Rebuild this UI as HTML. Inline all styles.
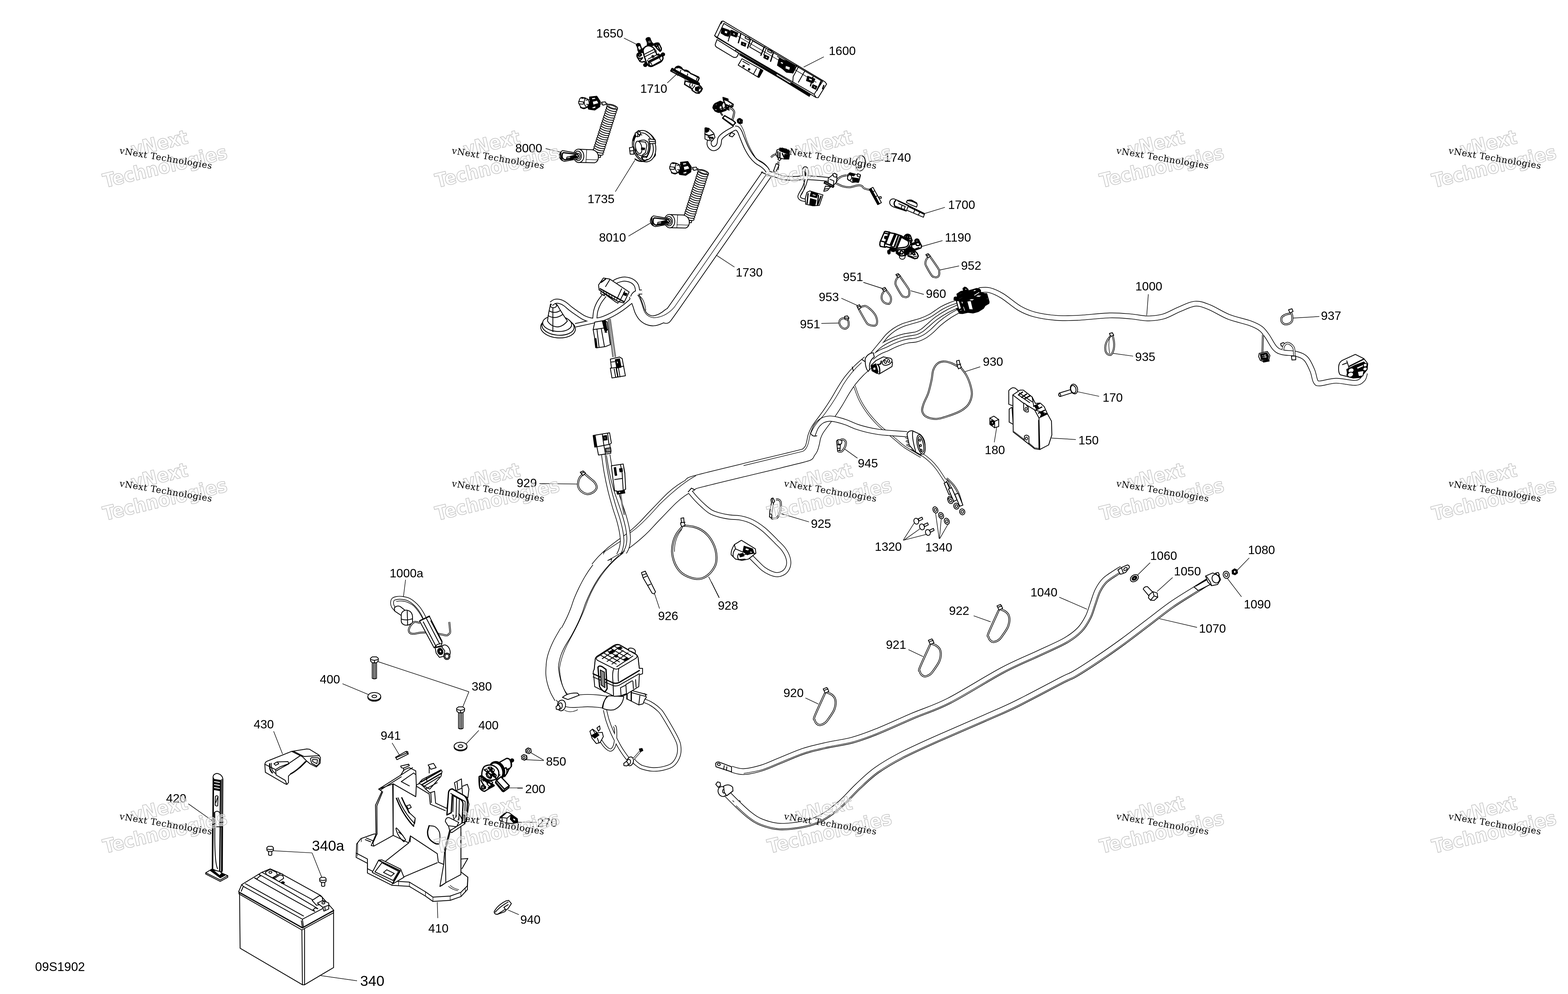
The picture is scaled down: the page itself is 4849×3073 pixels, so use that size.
<!DOCTYPE html>
<html lang="en">
<head>
<meta charset="utf-8">
<title>09S1902 - Electrical System</title>
<style>
html,body{margin:0;padding:0;background:#fff;}
body{width:4849px;height:3073px;overflow:hidden;}
svg{display:block;will-change:transform;}
.d *{vector-effect:non-scaling-stroke;}
.d{fill:none;stroke:#000;stroke-width:2.5;stroke-linejoin:round;stroke-linecap:round;}
.w{fill:#fff;}
.k{fill:#000;}
.g{fill:#888;}
.t{stroke-width:1.6;}
.h{stroke-width:3.8;}
.tb{stroke:#000;fill:none;stroke-linecap:butt;}
.tw{stroke:#fff;fill:none;stroke-linecap:butt;}
.ld{stroke-width:1.7;stroke-linecap:butt;}
.d text{font-family:"Liberation Sans",sans-serif;fill:#000;stroke:none;}
.wm1{font-family:"DejaVu Sans Condensed","DejaVu Sans",sans-serif;font-weight:bold;font-stretch:condensed;font-size:60px;fill:#fff;fill-opacity:.5;stroke:#c6c6c6;stroke-width:2;stroke-linejoin:round;text-anchor:middle;}
.wm2{font-family:"DejaVu Serif",serif;font-size:27.5px;letter-spacing:.95px;fill:#000;}
</style>
</head>
<body>
<svg width="4849" height="3073" viewBox="0 0 4849 3073">
<rect x="0" y="0" width="4849" height="3073" fill="#fff"/>
<g class="d" transform="translate(1800,40) scale(0.24917)" font-size="150.50">
<text x="176" y="305">1650</text>
<path class="ld" d="M520 312L682 392"/>
<text x="722" y="990">1710</text>
<path class="ld" d="M1058 868L1165 768"/>
</g>
<g class="d" transform="translate(1950,100) scale(0.12451)" font-size="301.18">
<path class="h w" d="M160 330 L195 440 Q235 455 275 420 L235 305 Z"/>
<ellipse class="k" cx="190" cy="308" rx="50" ry="34" transform="rotate(-15 190 308)"/>
<path class="k" d="M175 430 Q230 462 280 420 L335 380 L312 472 L232 502 L200 492 Z"/>
<path class="h w" d="M395 185 L432 292 L532 270 L482 160 Z"/>
<path d="M430 200 L462 285 M462 190 L495 278"/>
<ellipse class="k" cx="436" cy="168" rx="56" ry="40" transform="rotate(-15 436 168)"/>
<path class="k" d="M410 290 L540 260 L582 300 L560 332 L420 332 Z"/>
<path class="h w" d="M312 500 Q200 490 165 540 Q150 585 172 622 L232 722 Q290 752 340 722 L372 762 L420 700 L340 520 Z"/>
<ellipse class="k" cx="228" cy="562" rx="48" ry="36" transform="rotate(-20 228 562)"/>
<ellipse class="w" cx="228" cy="562" rx="26" ry="18" transform="rotate(-20 228 562)"/>
<path class="h" d="M180 630 Q240 660 300 630 M230 700 Q270 680 290 640"/>
<path class="h w" d="M580 290 Q640 250 702 270 L762 392 Q772 452 732 472 L660 402 Z"/>
<ellipse class="k" cx="646" cy="322" rx="50" ry="34" transform="rotate(-20 646 322)"/>
<ellipse class="w" cx="646" cy="322" rx="27" ry="16" transform="rotate(-20 646 322)"/>
<path class="h" d="M690 360 Q720 410 735 465"/>
<ellipse class="k" cx="805" cy="548" rx="42" ry="40"/>
<ellipse class="w" cx="800" cy="545" rx="14" ry="14"/>
<ellipse class="k" cx="365" cy="812" rx="42" ry="40"/>
<ellipse class="w" cx="362" cy="808" rx="14" ry="14"/>
<path class="h w" d="M310 452 Q330 352 430 332 Q520 330 580 400 L660 560 L750 560 Q812 600 802 660 Q782 722 722 752 L540 842 Q460 862 430 812 L390 742 L330 562 Z"/>
<path d="M330 552 L602 412 M362 602 L642 462 M440 662 L702 532 M602 412 L660 560 M420 690 L470 790 M700 540 L740 620"/>
<path class="k" d="M525 590 L560 572 L585 608 L550 628 Z"/>
<path class="w" d="M543 595 L558 588 L567 605 L552 612 Z"/>
<path class="h w" d="M450 772 Q440 722 480 702 L722 582 Q790 572 806 622 Q810 682 760 712 L540 832 Q470 852 450 772 Z"/>
<path class="h" d="M470 742 L742 604"/>
<path d="M482 772 Q478 742 505 730 L735 618 M510 760 L530 810 M720 640 L745 690"/>
<path class="h w" d="M1100 902 Q1130 842 1190 840 Q1272 860 1292 922 L1342 942 Q1402 932 1452 982 L1492 1022 L1562 1052 L1692 1112 L1702 1142 L1662 1232 L1110 940 Z"/>
<path class="k" d="M1130 870 Q1180 830 1250 870 L1290 915 L1250 900 Q1190 860 1150 890 Z"/>
<path class="k" d="M1330 945 Q1400 925 1460 985 L1430 990 Q1390 955 1345 965 Z"/>
<path d="M1250 940 L1235 985 M1420 1030 L1405 1075 M1560 1055 L1690 1130 M1655 1130 L1630 1200"/>
<path class="h w" d="M1000 955 L1030 897 L1700 1262 L1690 1302 L1650 1300 L1000 960 Z"/>
<path class="k" d="M1040 892 L1700 1255 L1715 1290 L1690 1305 L1030 935 Z"/>
<path class="w" d="M1010 945 L1030 910 L1050 922 L1032 958 Z"/>
<path d="M1150 1010 L1130 1055 M1190 1030 L1170 1075 M1370 1125 L1350 1170 M1480 1190 L1465 1230"/>
<path class="h w" d="M1355 1205 L1342 1290 L1520 1400 L1532 1442 L1622 1502 L1702 1512 L1782 1402 L1742 1342 L1700 1305 Z"/>
<path d="M1480 1270 L1465 1320 L1520 1400 M1540 1290 L1525 1340 M1600 1320 L1540 1395 L1532 1442"/>
<path class="k" d="M1610 1370 L1700 1340 L1720 1390 L1650 1460 L1610 1440 Z"/>
<ellipse class="w" cx="1720" cy="1430" rx="50" ry="68" transform="rotate(30 1720 1430)"/>
<ellipse cx="1720" cy="1430" rx="28" ry="44" transform="rotate(30 1720 1430)"/>
</g>
<g class="d" transform="translate(2180,40) scale(0.24917)" font-size="150.50">
<text x="1537" y="522">1600</text>
<path class="ld" d="M1475 545L1225 672"/>
<path class="w" d="M150 330 L128 390 Q125 410 145 425 L350 548 Q385 560 400 540 L420 500 Z"/>
<path class="w" d="M460 568 L413 648 L665 800 L718 712 Z"/>
<path d="M640 690 L605 755 M470 600 L550 645"/>
<ellipse class="k" cx="480" cy="660" rx="10" ry="10"/>
<ellipse class="k" cx="548" cy="700" rx="10" ry="10"/>
<path class="k" d="M690 700 L720 716 L672 800 L655 790 Z"/>
<path class="w" d="M385 455 L375 470 L1295 1035 L1310 1005 Z"/>
<path class="k" d="M430 520 L1290 1020 L1300 1005 L440 505 Z"/>
<path class="w" d="M890 750 L880 770 L1060 880 L1075 860 Z"/>
<path class="w" d="M205 105 L225 100 L1490 855 L1510 882 L1405 1052 L1380 1050 L120 282 Z"/>
<path d="M1380 1050 L1355 1010 L1460 850 M1355 1010 L150 310 L120 282 M150 310 L235 130"/>
<path d="M235 130 L1460 850"/>
<path class="t" d="M300 225 L1380 860 M285 350 L340 225"/>
<path class="h" d="M445 262 L415 370 M565 325 L530 435 M735 425 L695 525 M850 490 L815 600 M1140 650 L1090 745 M1340 795 L1310 905 M1440 850 L1390 960"/>
<path d="M320 215 L290 350 M595 345 L555 420 M760 440 L730 520 M900 540 L1000 600 M1160 670 L1095 790 L1090 860 M1240 720 L1160 860 M590 345 L740 430 L745 410 M560 425 L700 505"/>
<path class="k" d="M215 185 L300 215 L310 235 L290 290 L250 280 L200 250 Z"/>
<path class="w" d="M245 215 L285 228 L275 262 L240 250 Z"/>
<path class="k" d="M330 215 L410 250 L390 300 L320 275 Z"/>
<path class="w" d="M350 245 L380 258 L372 278 L342 265 Z"/>
<path class="k" d="M455 360 L510 380 L500 415 L450 395 Z"/>
<path class="w" d="M470 375 L495 384 L490 400 L466 392 Z"/>
<path d="M505 290 L555 312 L545 335 L498 312 Z"/>
<path class="k" d="M740 520 L795 545 L780 580 L730 555 Z"/>
<path class="w" d="M755 535 L780 546 L772 565 L748 555 Z"/>
<path d="M785 450 L835 475 L825 498 L778 475 Z"/>
<path class="k" d="M920 565 L1020 600 L1120 650 L1090 745 L1010 735 L960 690 L900 650 Z"/>
<path class="w" d="M1000 650 L1060 672 L1050 712 L995 692 Z"/>
<path class="w" d="M940 600 L975 615 L968 640 L935 625 Z"/>
<path class="k" d="M1275 785 L1365 820 L1340 870 L1260 840 Z"/>
<path class="w" d="M1292 805 L1335 822 L1326 845 L1284 828 Z"/>
<path class="k" d="M1340 890 L1390 912 L1375 948 L1328 925 Z"/>
<path class="w" d="M1352 905 L1376 916 L1368 934 L1345 924 Z"/>
<path class="h" d="M1475 900 L1460 940 M210 112 L200 128"/>
</g>
<g class="d" transform="translate(1640,260) scale(0.24917)" font-size="150.50">
<path class="tb" stroke-width="6" d="M868 240C873.5 239.63 890.3 237.46 901.01 237.77C911.73 238.08 922.46 239.48 932.29 241.85C942.12 244.22 955.38 250.31 960 252"/>
<path class="tw" stroke-width="2.4" d="M868 240C873.5 239.63 890.3 237.46 901.01 237.77C911.73 238.08 922.46 239.48 932.29 241.85C942.12 244.22 955.38 250.31 960 252"/>
<path class="w" d="M885 225 L930 220 L945 250 L900 262 Z"/>
<path class="t" d="M960 250 Q1000 245 1040 262"/>
<ellipse class="w" cx="838" cy="852" rx="68" ry="24" transform="rotate(17.5 838 852)"/>
<ellipse class="w" cx="847" cy="825" rx="68" ry="24" transform="rotate(17.5 847 825)"/>
<ellipse class="w" cx="855" cy="798" rx="68" ry="24" transform="rotate(17.5 855 798)"/>
<ellipse class="w" cx="864" cy="771" rx="68" ry="24" transform="rotate(17.5 864 771)"/>
<ellipse class="w" cx="872" cy="743" rx="68" ry="24" transform="rotate(17.5 872 743)"/>
<ellipse class="w" cx="881" cy="716" rx="68" ry="24" transform="rotate(17.5 881 716)"/>
<ellipse class="w" cx="889" cy="689" rx="68" ry="24" transform="rotate(17.5 889 689)"/>
<ellipse class="w" cx="898" cy="662" rx="68" ry="24" transform="rotate(17.5 898 662)"/>
<ellipse class="w" cx="907" cy="635" rx="68" ry="24" transform="rotate(17.5 907 635)"/>
<ellipse class="w" cx="915" cy="608" rx="68" ry="24" transform="rotate(17.5 915 608)"/>
<ellipse class="w" cx="924" cy="581" rx="68" ry="24" transform="rotate(17.5 924 581)"/>
<ellipse class="w" cx="932" cy="553" rx="68" ry="24" transform="rotate(17.5 932 553)"/>
<ellipse class="w" cx="941" cy="526" rx="68" ry="24" transform="rotate(17.5 941 526)"/>
<ellipse class="w" cx="949" cy="499" rx="68" ry="24" transform="rotate(17.5 949 499)"/>
<ellipse class="w" cx="958" cy="472" rx="68" ry="24" transform="rotate(17.5 958 472)"/>
<ellipse class="w" cx="967" cy="445" rx="68" ry="24" transform="rotate(17.5 967 445)"/>
<ellipse class="w" cx="975" cy="418" rx="68" ry="24" transform="rotate(17.5 975 418)"/>
<ellipse class="w" cx="984" cy="391" rx="68" ry="24" transform="rotate(17.5 984 391)"/>
<ellipse class="w" cx="992" cy="363" rx="68" ry="24" transform="rotate(17.5 992 363)"/>
<ellipse class="w" cx="1001" cy="336" rx="68" ry="24" transform="rotate(17.5 1001 336)"/>
<ellipse class="w" cx="1009" cy="309" rx="68" ry="24" transform="rotate(17.5 1009 309)"/>
<ellipse class="w" cx="1018" cy="282" rx="68" ry="24" transform="rotate(17.5 1018 282)"/>
<ellipse class="t" cx="1018" cy="282" rx="50" ry="14" transform="rotate(17.5 1018 282)"/>
<path d="M1082 300 L1075 325 M952 275 L945 300"/>
<path class="w" d="M600 808 L770 815 Q838 830 845 900 Q845 960 800 976 L600 972 Z"/>
<path class="t" d="M690 935 L835 940 M700 815 L690 972"/>
<ellipse class="w" cx="600" cy="890" rx="64" ry="83" transform="rotate(-5 600 890)"/>
<ellipse cx="592" cy="890" rx="42" ry="58" transform="rotate(-5 592 890)"/>
<path class="w" d="M845 880 L875 885 L870 910 L845 908 Z"/>
<path class="w" d="M400 825 L605 862 Q632 892 605 925 L425 958 Q368 945 360 892 Q365 840 400 825 Z"/>
<path class="h" d="M410 850 L585 872 Q610 895 585 912 L430 940 Q390 925 395 888 Q395 860 410 850 Z"/>
<path class="k" d="M500 895 L560 880 L580 900 L520 935 L440 935 Z"/>
<path class="w" d="M455 905 L505 900 L495 920 L450 925 Z"/>
<path class="h" d="M380 850 Q370 900 395 945"/>
<ellipse class="w" cx="655" cy="235" rx="48" ry="72" transform="rotate(-15 655 235)"/>
<path class="w" d="M600 215 L660 222 L658 250 L602 245 Z"/>
<path class="h" d="M640 175 Q690 160 705 200 M625 290 Q670 310 705 285"/>
<ellipse class="w" cx="700" cy="232" rx="30" ry="55" transform="rotate(-10 700 232)"/>
<path class="k" d="M735 160 L825 150 L868 215 L862 280 L800 322 L725 312 L708 280 L740 230 Z"/>
<path class="w" d="M770 215 L830 200 L850 240 L780 260 Z"/>
<path class="w" d="M765 285 L815 270 L810 300 L770 305 Z"/>
<path class="w" d="M760 170 L805 165 L815 185 L765 195 Z"/>
<path d="M700 250 L740 262 M690 200 L730 190"/>
<text x="-187" y="846">8000</text>
<path class="ld" d="M190 800L382 846"/>
</g>
<g class="d" transform="translate(1921.3,461.8) scale(0.24917)" font-size="150.50">
<path class="tb" stroke-width="6" d="M868 240C873.5 239.63 890.3 237.46 901.01 237.77C911.73 238.08 922.46 239.48 932.29 241.85C942.12 244.22 955.38 250.31 960 252"/>
<path class="tw" stroke-width="2.4" d="M868 240C873.5 239.63 890.3 237.46 901.01 237.77C911.73 238.08 922.46 239.48 932.29 241.85C942.12 244.22 955.38 250.31 960 252"/>
<path class="w" d="M885 225 L930 220 L945 250 L900 262 Z"/>
<path class="t" d="M960 250 Q1000 245 1040 262"/>
<ellipse class="w" cx="838" cy="852" rx="68" ry="24" transform="rotate(17.5 838 852)"/>
<ellipse class="w" cx="847" cy="825" rx="68" ry="24" transform="rotate(17.5 847 825)"/>
<ellipse class="w" cx="855" cy="798" rx="68" ry="24" transform="rotate(17.5 855 798)"/>
<ellipse class="w" cx="864" cy="771" rx="68" ry="24" transform="rotate(17.5 864 771)"/>
<ellipse class="w" cx="872" cy="743" rx="68" ry="24" transform="rotate(17.5 872 743)"/>
<ellipse class="w" cx="881" cy="716" rx="68" ry="24" transform="rotate(17.5 881 716)"/>
<ellipse class="w" cx="889" cy="689" rx="68" ry="24" transform="rotate(17.5 889 689)"/>
<ellipse class="w" cx="898" cy="662" rx="68" ry="24" transform="rotate(17.5 898 662)"/>
<ellipse class="w" cx="907" cy="635" rx="68" ry="24" transform="rotate(17.5 907 635)"/>
<ellipse class="w" cx="915" cy="608" rx="68" ry="24" transform="rotate(17.5 915 608)"/>
<ellipse class="w" cx="924" cy="581" rx="68" ry="24" transform="rotate(17.5 924 581)"/>
<ellipse class="w" cx="932" cy="553" rx="68" ry="24" transform="rotate(17.5 932 553)"/>
<ellipse class="w" cx="941" cy="526" rx="68" ry="24" transform="rotate(17.5 941 526)"/>
<ellipse class="w" cx="949" cy="499" rx="68" ry="24" transform="rotate(17.5 949 499)"/>
<ellipse class="w" cx="958" cy="472" rx="68" ry="24" transform="rotate(17.5 958 472)"/>
<ellipse class="w" cx="967" cy="445" rx="68" ry="24" transform="rotate(17.5 967 445)"/>
<ellipse class="w" cx="975" cy="418" rx="68" ry="24" transform="rotate(17.5 975 418)"/>
<ellipse class="w" cx="984" cy="391" rx="68" ry="24" transform="rotate(17.5 984 391)"/>
<ellipse class="w" cx="992" cy="363" rx="68" ry="24" transform="rotate(17.5 992 363)"/>
<ellipse class="w" cx="1001" cy="336" rx="68" ry="24" transform="rotate(17.5 1001 336)"/>
<ellipse class="w" cx="1009" cy="309" rx="68" ry="24" transform="rotate(17.5 1009 309)"/>
<ellipse class="w" cx="1018" cy="282" rx="68" ry="24" transform="rotate(17.5 1018 282)"/>
<ellipse class="t" cx="1018" cy="282" rx="50" ry="14" transform="rotate(17.5 1018 282)"/>
<path d="M1082 300 L1075 325 M952 275 L945 300"/>
<path class="w" d="M600 808 L770 815 Q838 830 845 900 Q845 960 800 976 L600 972 Z"/>
<path class="t" d="M690 935 L835 940 M700 815 L690 972"/>
<ellipse class="w" cx="600" cy="890" rx="64" ry="83" transform="rotate(-5 600 890)"/>
<ellipse cx="592" cy="890" rx="42" ry="58" transform="rotate(-5 592 890)"/>
<path class="w" d="M845 880 L875 885 L870 910 L845 908 Z"/>
<path class="w" d="M400 825 L605 862 Q632 892 605 925 L425 958 Q368 945 360 892 Q365 840 400 825 Z"/>
<path class="h" d="M410 850 L585 872 Q610 895 585 912 L430 940 Q390 925 395 888 Q395 860 410 850 Z"/>
<path class="k" d="M500 895 L560 880 L580 900 L520 935 L440 935 Z"/>
<path class="w" d="M455 905 L505 900 L495 920 L450 925 Z"/>
<path class="h" d="M380 850 Q370 900 395 945"/>
<ellipse class="w" cx="655" cy="235" rx="48" ry="72" transform="rotate(-15 655 235)"/>
<path class="w" d="M600 215 L660 222 L658 250 L602 245 Z"/>
<path class="h" d="M640 175 Q690 160 705 200 M625 290 Q670 310 705 285"/>
<ellipse class="w" cx="700" cy="232" rx="30" ry="55" transform="rotate(-10 700 232)"/>
<path class="k" d="M735 160 L825 150 L868 215 L862 280 L800 322 L725 312 L708 280 L740 230 Z"/>
<path class="w" d="M770 215 L830 200 L850 240 L780 260 Z"/>
<path class="w" d="M765 285 L815 270 L810 300 L770 305 Z"/>
<path class="w" d="M760 170 L805 165 L815 185 L765 195 Z"/>
<path d="M700 250 L740 262 M690 200 L730 190"/>
<text x="-276" y="1143">8010</text>
<path class="ld" d="M90 1076L360 916"/>
</g>
<g class="d" transform="translate(1640,260) scale(0.24917)" font-size="150.50">
<text x="710" y="1478">1735</text>
<path class="ld" d="M1055 1335L1297 945"/>
<ellipse class="w" cx="1500" cy="880" rx="55" ry="40" transform="rotate(-20 1500 880)"/>
<ellipse class="w" cx="1412" cy="770" rx="142" ry="198" transform="rotate(-14 1412 770)"/>
<ellipse cx="1405" cy="775" rx="118" ry="172" transform="rotate(-14 1405 775)"/>
<path class="h" d="M1300 930 Q1380 985 1450 935 M1280 700 Q1300 620 1360 585"/>
<path class="w" d="M1300 610 L1345 575 L1370 610 L1350 650 L1310 650 Z"/>
<path d="M1320 600 L1360 640 M1340 585 L1330 655 M1355 625 L1385 630"/>
<path class="w" d="M1230 790 L1280 780 L1285 870 L1240 870 Z"/>
<path d="M1235 830 L1285 825"/>
<path class="w" d="M1470 680 L1550 690 L1555 735 L1480 740 Z"/>
<path d="M1475 710 L1555 715 M1440 590 Q1520 630 1550 700"/>
<path class="w" d="M1330 720 Q1360 690 1420 695 L1460 720 Q1480 790 1450 860 L1400 890 Q1340 890 1310 850 Q1295 780 1330 720 Z"/>
<ellipse class="w" cx="1345" cy="785" rx="38" ry="78" transform="rotate(-12 1345 785)"/>
<path d="M1350 710 L1430 720 L1445 760 M1390 880 L1430 850 L1445 760"/>
<path class="k" d="M1380 790 L1420 795 L1415 815 L1378 810 Z"/>
<path class="h" d="M1480 730 Q1500 820 1440 910 M1450 900 L1380 905 L1400 940"/>
</g>
<g class="d" transform="translate(1640,700) scale(0.33224)" font-size="112.87">
<text x="1912" y="468">1730</text>
<path class="ld" d="M1900 378L1735 270"/>
<ellipse class="w" cx="258" cy="945" rx="162" ry="92" transform="rotate(5 258 945)"/>
<ellipse cx="258" cy="930" rx="150" ry="82" transform="rotate(5 258 930)"/>
<ellipse class="w" cx="250" cy="905" rx="135" ry="72" transform="rotate(5 250 905)"/>
<path class="w" d="M160 880 Q170 800 185 740 Q215 700 250 730 Q290 800 345 880 Q300 935 250 935 Q190 930 160 880 Z"/>
<path d="M165 830 Q230 870 300 820 M175 785 Q225 815 275 785 M210 760 L210 980"/>
<ellipse cx="215" cy="735" rx="30" ry="22"/>
<path class="tb" stroke-width="15" d="M1000 610C997.82 599.72 995.91 565.38 986.93 548.29C977.95 531.2 963.95 517.21 946.13 507.49C928.31 497.78 899.1 491.64 880 490C860.9 488.36 846.43 493.55 831.56 497.66C816.68 501.77 802.68 507.6 790.76 514.66C778.83 521.71 765.13 535.78 760 540"/>
<path class="tb" stroke-width="15" d="M690 640C681.73 651.36 653.77 684.35 640.4 708.18C627.03 732.01 616.53 757.67 609.8 782.98C603.07 808.28 601.63 847.16 600 860"/>
<path class="tb" stroke-width="33" d="M2200 -484C2057.5 -279.17 1497.3 529.28 1345 745C1192.7 960.72 1307.03 791.91 1286.18 810.34C1265.32 828.76 1242.57 844.28 1219.88 855.56C1197.18 866.83 1170.64 875.71 1150 878C1129.36 880.29 1112.4 875.74 1096.04 869.3C1079.69 862.86 1064.52 852.6 1051.85 839.38C1039.17 826.16 1028.52 807.59 1020 790C1011.48 772.41 1007.07 751.72 1000.74 733.87C994.42 716.01 988 698.51 982.04 682.87C976.09 667.22 967.84 647.14 965 640"/>
<path class="tb" stroke-width="15" d="M1040 610C1032.29 610.71 1007.11 609.04 993.73 614.29C980.36 619.54 968.69 628.87 959.73 641.49C950.78 654.11 953.92 672.56 940 690C926.08 707.44 899.34 728.28 876.24 746.13C853.15 763.99 827.48 781.49 801.44 797.13C775.4 812.78 746.41 828.25 720 840C693.59 851.75 668.28 862.45 642.98 867.62C617.67 872.79 592.01 873.96 568.18 871.02C544.35 868.08 522 860.28 500 850C478 839.72 457.01 823.46 436.18 809.31C415.34 795.16 394.34 780 374.98 765.11C355.62 750.23 337.33 731.2 320 720C302.67 708.8 286.26 701.57 271.01 697.89C255.76 694.21 241.18 694.21 228.51 697.89C215.84 701.58 200.59 716.32 195 720"/>
<path class="tb" stroke-width="13" d="M940 700C924.24 711.93 878.18 750.01 845.42 771.58C812.66 793.14 777.66 812.97 743.42 829.38C709.19 845.78 693.9 854.9 640 870C586.1 885.1 456.67 911.67 420 920"/>
<path class="tw" stroke-width="10.6" d="M1000 610C997.82 599.72 995.91 565.38 986.93 548.29C977.95 531.2 963.95 517.21 946.13 507.49C928.31 497.78 899.1 491.64 880 490C860.9 488.36 846.43 493.55 831.56 497.66C816.68 501.77 802.68 507.6 790.76 514.66C778.83 521.71 765.13 535.78 760 540"/>
<path class="tw" stroke-width="10.6" d="M690 640C681.73 651.36 653.77 684.35 640.4 708.18C627.03 732.01 616.53 757.67 609.8 782.98C603.07 808.28 601.63 847.16 600 860"/>
<path class="tw" stroke-width="28.6" d="M2200 -484C2057.5 -279.17 1497.3 529.28 1345 745C1192.7 960.72 1307.03 791.91 1286.18 810.34C1265.32 828.76 1242.57 844.28 1219.88 855.56C1197.18 866.83 1170.64 875.71 1150 878C1129.36 880.29 1112.4 875.74 1096.04 869.3C1079.69 862.86 1064.52 852.6 1051.85 839.38C1039.17 826.16 1028.52 807.59 1020 790C1011.48 772.41 1007.07 751.72 1000.74 733.87C994.42 716.01 988 698.51 982.04 682.87C976.09 667.22 967.84 647.14 965 640"/>
<path class="tw" stroke-width="10.6" d="M1040 610C1032.29 610.71 1007.11 609.04 993.73 614.29C980.36 619.54 968.69 628.87 959.73 641.49C950.78 654.11 953.92 672.56 940 690C926.08 707.44 899.34 728.28 876.24 746.13C853.15 763.99 827.48 781.49 801.44 797.13C775.4 812.78 746.41 828.25 720 840C693.59 851.75 668.28 862.45 642.98 867.62C617.67 872.79 592.01 873.96 568.18 871.02C544.35 868.08 522 860.28 500 850C478 839.72 457.01 823.46 436.18 809.31C415.34 795.16 394.34 780 374.98 765.11C355.62 750.23 337.33 731.2 320 720C302.67 708.8 286.26 701.57 271.01 697.89C255.76 694.21 241.18 694.21 228.51 697.89C215.84 701.58 200.59 716.32 195 720"/>
<path class="tw" stroke-width="8.6" d="M940 700C924.24 711.93 878.18 750.01 845.42 771.58C812.66 793.14 777.66 812.97 743.42 829.38C709.19 845.78 693.9 854.9 640 870C586.1 885.1 456.67 911.67 420 920"/>
<path class="t" d="M2197 -484 L1340 752 Q1260 845 1150 850 Q1070 840 1050 760 Q1020 660 1000 640"/>
<path class="t" d="M1000 640 Q1060 660 1075 780"/>
<path class="tb" stroke-width="4" d="M725 860 L770 1215"/>
<path class="tb" stroke-width="4" d="M742 860 L792 1215"/>
<path class="tw" stroke-width="1.4" d="M725 860 L770 1215"/>
<path class="tw" stroke-width="1.4" d="M742 860 L792 1215"/>
<path class="w" d="M635 545 L680 480 L740 490 L920 610 L870 712 L820 700 L640 590 Z"/>
<path class="h" d="M650 580 L870 700 M660 520 L700 490"/>
<path d="M850 580 L800 690 M880 600 L830 700 M740 495 L700 560"/>
<path class="k" d="M870 615 L900 625 L892 645 L865 635 Z"/>
<path class="t" d="M680 600 L688 625 M705 612 L713 637 M730 625 L738 650 M755 640 L763 665 M780 655 L788 680"/>
<path class="w" d="M640 590 L660 600 L655 625 L690 645 L685 625 L820 700 L815 715 L790 700 Z"/>
<path class="w" d="M585 960 L600 890 L690 875 L715 890 L745 1100 L700 1118 L615 1130 Z"/>
<path class="k" d="M670 880 L700 878 L715 965 L700 985 L690 960 Z"/>
<path class="k" d="M598 1045 L612 1043 L622 1125 L608 1128 Z"/>
<path d="M585 960 L690 945 L720 960 M620 955 L640 1125 M660 950 L690 1118 M695 985 L712 985"/>
<path class="w" d="M745 1235 L830 1215 L855 1230 L885 1390 L760 1410 L745 1320 L755 1315 Z"/>
<path class="k" d="M790 1240 L830 1232 L845 1310 L805 1318 Z"/>
<path class="w" d="M800 1255 L815 1252 L820 1275 L806 1278 Z"/>
<path d="M745 1320 L870 1300 M780 1325 L795 1405 M820 1315 L835 1400 M755 1262 L785 1258"/>
<path class="h" d="M800 1320 L815 1400"/>
</g>
<g class="d" transform="translate(2180,280) scale(0.24917)" font-size="150.50">
<ellipse class="w" cx="1932" cy="902" rx="58" ry="95" transform="rotate(8 1932 902)"/>
<ellipse cx="1925" cy="945" rx="22" ry="14" transform="rotate(10 1925 945)"/>
<path class="t" d="M1905 835 L1925 825 L1920 850"/>
<path class="ld" d="M2045 880L2210 862"/>
<text x="2222" y="885">1740</text>
<path class="tb" stroke-width="5.5" d="M1625 1135C1630.03 1127.93 1642.5 1104.47 1655.18 1092.58C1667.86 1080.69 1683.61 1070.77 1701.08 1063.68C1718.55 1056.58 1750.18 1052.28 1760 1050"/>
<path class="tb" stroke-width="5.5" d="M1625 1150C1639.58 1156.44 1683.44 1180.5 1712.47 1188.64C1741.49 1196.78 1771.24 1200.28 1799.17 1198.84C1827.09 1197.4 1860.29 1183.98 1880 1180C1899.71 1176.02 1905.52 1173.82 1917.42 1174.97C1929.33 1176.11 1940.99 1180.2 1951.42 1186.87C1961.85 1193.54 1961.9 1206.98 1980 1215C1998.1 1223.02 2046.67 1231.67 2060 1235"/>
<path class="tb" stroke-width="5.5" d="M905 985 L912 880"/>
<path class="tb" stroke-width="5.5" d="M820 830C823.66 826.33 833.78 813.9 841.98 807.96C850.17 802.02 859.51 797.35 869.18 794.36C878.85 791.36 894.86 790.73 900 790"/>
<path class="tb" stroke-width="15" d="M60 610C58.52 617.89 50.31 643.23 51.09 657.35C51.87 671.48 56.54 684.31 64.69 694.76C72.84 705.2 86.68 717.97 100 720C113.32 722.03 132.38 715.91 144.63 706.93C156.89 697.95 166.8 683.95 173.53 666.13C180.26 648.31 178.63 616.79 185 600C191.37 583.21 196.83 578.82 211.78 565.4C226.73 551.98 248.31 536.23 274.68 519.5C301.05 502.77 354.11 474.08 370 465"/>
<path class="tb" stroke-width="15" d="M370 465C375.32 465.98 391.49 463.39 401.91 470.89C412.33 478.39 422.83 491.81 432.51 509.99C442.19 528.18 446.26 546.67 460 580C473.74 613.33 495.61 671.29 514.98 709.95C534.34 748.61 555.34 783.61 576.18 811.95C597.01 840.29 617.98 861.32 640 880C662.02 898.68 688.99 909.88 708.31 924.02C727.63 938.16 743.96 952.16 755.91 964.82C767.86 977.49 775.99 994.14 780 1000"/>
<path class="tb" stroke-width="14" d="M790 1020C801.19 1024.04 836.33 1036.78 857.15 1044.22C877.98 1051.66 897.81 1058.66 914.96 1064.62C932.1 1070.59 937.46 1075.96 960 1080C982.54 1084.04 1020.45 1087.37 1050.22 1088.84C1079.99 1090.32 1110.33 1090.32 1138.62 1088.84C1166.92 1087.37 1187 1080.65 1220 1080C1253 1079.35 1297.92 1082.69 1336.62 1084.93C1375.33 1087.17 1414.99 1090.09 1452.22 1093.43C1489.45 1096.78 1542.04 1103.07 1560 1105"/>
<path class="tb" stroke-width="10" d="M1230 1080C1229.17 1068.98 1224.98 1031.69 1225 1013.87C1225.02 996.05 1226.77 982.05 1230.1 973.07C1233.43 964.09 1239.94 960.36 1245 960C1250.06 959.64 1256.74 963.41 1260.44 970.89C1264.15 978.37 1266.48 990.04 1267.24 1004.89C1268 1019.74 1267.93 1038.07 1265 1060C1262.07 1081.93 1256.75 1111.55 1249.65 1136.48C1242.56 1161.41 1233.23 1186.49 1222.45 1209.58C1211.68 1232.66 1193.93 1256.94 1185 1275C1176.07 1293.06 1167.29 1305.7 1168.85 1317.97C1170.4 1330.23 1179.15 1340.73 1194.35 1348.57C1209.54 1356.41 1249.06 1362.26 1260 1365"/>
<path class="tw" stroke-width="1.9" d="M1625 1135C1630.03 1127.93 1642.5 1104.47 1655.18 1092.58C1667.86 1080.69 1683.61 1070.77 1701.08 1063.68C1718.55 1056.58 1750.18 1052.28 1760 1050"/>
<path class="tw" stroke-width="1.9" d="M1625 1150C1639.58 1156.44 1683.44 1180.5 1712.47 1188.64C1741.49 1196.78 1771.24 1200.28 1799.17 1198.84C1827.09 1197.4 1860.29 1183.98 1880 1180C1899.71 1176.02 1905.52 1173.82 1917.42 1174.97C1929.33 1176.11 1940.99 1180.2 1951.42 1186.87C1961.85 1193.54 1961.9 1206.98 1980 1215C1998.1 1223.02 2046.67 1231.67 2060 1235"/>
<path class="tw" stroke-width="1.9" d="M905 985 L912 880"/>
<path class="tw" stroke-width="1.9" d="M820 830C823.66 826.33 833.78 813.9 841.98 807.96C850.17 802.02 859.51 797.35 869.18 794.36C878.85 791.36 894.86 790.73 900 790"/>
<path class="tw" stroke-width="10.4" d="M60 610C58.52 617.89 50.31 643.23 51.09 657.35C51.87 671.48 56.54 684.31 64.69 694.76C72.84 705.2 86.68 717.97 100 720C113.32 722.03 132.38 715.91 144.63 706.93C156.89 697.95 166.8 683.95 173.53 666.13C180.26 648.31 178.63 616.79 185 600C191.37 583.21 196.83 578.82 211.78 565.4C226.73 551.98 248.31 536.23 274.68 519.5C301.05 502.77 354.11 474.08 370 465"/>
<path class="tw" stroke-width="10.4" d="M370 465C375.32 465.98 391.49 463.39 401.91 470.89C412.33 478.39 422.83 491.81 432.51 509.99C442.19 528.18 446.26 546.67 460 580C473.74 613.33 495.61 671.29 514.98 709.95C534.34 748.61 555.34 783.61 576.18 811.95C597.01 840.29 617.98 861.32 640 880C662.02 898.68 688.99 909.88 708.31 924.02C727.63 938.16 743.96 952.16 755.91 964.82C767.86 977.49 775.99 994.14 780 1000"/>
<path class="tw" stroke-width="9.4" d="M790 1020C801.19 1024.04 836.33 1036.78 857.15 1044.22C877.98 1051.66 897.81 1058.66 914.96 1064.62C932.1 1070.59 937.46 1075.96 960 1080C982.54 1084.04 1020.45 1087.37 1050.22 1088.84C1079.99 1090.32 1110.33 1090.32 1138.62 1088.84C1166.92 1087.37 1187 1080.65 1220 1080C1253 1079.35 1297.92 1082.69 1336.62 1084.93C1375.33 1087.17 1414.99 1090.09 1452.22 1093.43C1489.45 1096.78 1542.04 1103.07 1560 1105"/>
<path class="tw" stroke-width="5.4" d="M1230 1080C1229.17 1068.98 1224.98 1031.69 1225 1013.87C1225.02 996.05 1226.77 982.05 1230.1 973.07C1233.43 964.09 1239.94 960.36 1245 960C1250.06 959.64 1256.74 963.41 1260.44 970.89C1264.15 978.37 1266.48 990.04 1267.24 1004.89C1268 1019.74 1267.93 1038.07 1265 1060C1262.07 1081.93 1256.75 1111.55 1249.65 1136.48C1242.56 1161.41 1233.23 1186.49 1222.45 1209.58C1211.68 1232.66 1193.93 1256.94 1185 1275C1176.07 1293.06 1167.29 1305.7 1168.85 1317.97C1170.4 1330.23 1179.15 1340.73 1194.35 1348.57C1209.54 1356.41 1249.06 1362.26 1260 1365"/>
<path class="t" d="M1215 1085 Q1260 1190 1200 1290"/>
<path d="M700 1012 L835 1072"/>
<path class="w" d="M850 1000 L885 905 L920 925 L880 1010 Z"/>
<path d="M300 560 L330 520 L370 540 L340 575 Z"/>
<path class="t" d="M440 420 Q480 480 500 560 Q540 700 640 850 Q760 900 800 985"/>
</g>
<g class="d" transform="translate(2180,300) scale(0.12458)" font-size="301.00">
<path class="tb" stroke-width="6" d="M610 265C618.72 268.75 647.08 277.79 662.32 287.49C677.56 297.19 690.98 309.44 701.42 323.19C711.87 336.94 722.44 350.84 725 370C727.56 389.16 721.28 414.35 716.8 438.18C712.32 462.01 705.9 487.67 698.1 512.98C690.3 538.28 674.68 577.16 670 590"/>
<path class="tb" stroke-width="5" d="M345 230C346.36 242.28 346.4 278.37 353.13 303.69C359.87 329 370.96 355.84 385.43 381.89C399.91 407.94 430.91 446.98 440 460"/>
<path class="tw" stroke-width="2" d="M610 265C618.72 268.75 647.08 277.79 662.32 287.49C677.56 297.19 690.98 309.44 701.42 323.19C711.87 336.94 722.44 350.84 725 370C727.56 389.16 721.28 414.35 716.8 438.18C712.32 462.01 705.9 487.67 698.1 512.98C690.3 538.28 674.68 577.16 670 590"/>
<path class="tw" stroke-width="1" d="M345 230C346.36 242.28 346.4 278.37 353.13 303.69C359.87 329 370.96 355.84 385.43 381.89C399.91 407.94 430.91 446.98 440 460"/>
<path class="h w" d="M440 520 L490 462 L700 585 L760 640 L700 705 Z"/>
<path class="h" d="M440 525 L690 710"/>
<path class="k" d="M195 270 Q200 200 250 160 L380 100 L450 130 L420 200 L350 240 L360 340 L400 370 L330 385 L250 350 Z"/>
<path class="w" d="M255 190 L300 170 L310 195 L265 215 Z"/>
<path class="w" d="M240 300 L290 290 L300 330 L260 335 Z"/>
<path class="w" d="M370 300 L420 280 L440 310 L390 330 Z"/>
<path class="k" d="M380 330 L520 290 L530 330 L400 375 Z"/>
<ellipse class="w" cx="470" cy="200" rx="45" ry="85" transform="rotate(20 470 200)"/>
<path class="h" d="M430 130 Q400 200 440 280"/>
<path class="h w" d="M450 12 L570 50 L572 100 L700 180 L690 240 L640 250 L590 225 L575 300 L520 280 L500 170 L462 82 Z"/>
<path class="k" d="M470 30 L560 62 L560 95 L478 70 Z"/>
<path class="k" d="M520 180 L600 215 L585 290 L520 270 Z"/>
<path class="w" d="M540 205 L575 220 L568 255 L535 245 Z"/>
<path d="M610 190 L600 235 M640 205 L632 248 M665 195 L660 240"/>
<path class="h" d="M505 250 Q540 310 600 320"/>
<path class="k" d="M800 575 Q820 530 870 530 L930 570 L925 650 L860 665 L810 630 Z"/>
<path class="w" d="M835 580 L870 565 L880 610 L845 625 Z"/>
<path class="w" d="M890 590 L915 585 L915 635 L893 640 Z"/>
</g>
<g class="d" transform="translate(2180,280) scale(0.24917)" font-size="150.50">
<path class="w" d="M0 465 L50 470 L110 530 L125 580 L90 625 L30 615 L0 600 Z"/>
<path class="k" d="M10 460 L45 468 L50 500 L20 520 L0 510 Z"/>
<path class="h" d="M0 540 L50 560 L100 545 M40 575 L100 585"/>
<path d="M55 590 L95 578 L100 595 L60 605 Z"/>
<path class="w" d="M895 735 L960 712 L1050 750 L1040 850 L985 850 L900 830 L880 790 Z"/>
<path class="k" d="M930 712 L1010 725 L1050 760 L1040 790 L960 760 L925 745 Z"/>
<path class="k" d="M990 790 L1050 800 L1040 850 L985 845 Z"/>
<path class="h" d="M905 760 L905 830 M930 770 L930 835 M960 780 L990 845"/>
<path class="w" d="M905 850 L925 830 L945 850 L925 870 Z"/>
<path class="w" d="M1265 1265 L1300 1245 L1465 1295 L1420 1425 L1340 1430 L1250 1410 L1245 1340 Z"/>
<path class="k" d="M1320 1260 L1400 1285 L1385 1330 L1305 1310 Z"/>
<path class="k" d="M1310 1340 L1380 1360 L1365 1430 L1300 1410 Z"/>
<path class="w" d="M1335 1280 L1380 1293 L1375 1312 L1330 1300 Z"/>
<path class="h" d="M1280 1280 L1268 1400 M1410 1300 L1395 1420 M1440 1310 L1400 1420"/>
<path class="w" d="M1530 1090 L1580 1050 L1640 1070 L1630 1140 L1590 1180 L1530 1150 Z"/>
<path class="w" d="M1585 1035 L1610 1025 L1640 1045 L1630 1075 L1600 1070 Z"/>
<path class="h" d="M1490 1130 L1600 1185 L1590 1200 L1480 1148 Z"/>
<path class="w" d="M1495 1185 L1475 1250 L1520 1240 L1560 1195 Z"/>
<path d="M1480 1225 L1530 1215 M1550 1100 L1600 1120 L1595 1170"/>
<path class="w" d="M1770 1045 L1800 1020 L1930 1055 L1910 1130 L1830 1140 L1770 1100 Z"/>
<path class="k" d="M1800 1020 L1860 1035 L1850 1060 L1790 1045 Z"/>
<path class="k" d="M1830 1080 L1915 1095 L1905 1140 L1835 1130 Z"/>
<path class="w" d="M1895 1030 L1930 1045 L1920 1075 L1890 1062 Z"/>
<ellipse cx="1795" cy="1080" rx="25" ry="35" transform="rotate(10 1795 1080)"/>
<path class="w" d="M2040 1225 L2085 1200 L2190 1390 L2145 1415 Z"/>
<path class="k" d="M2040 1225 L2062 1212 L2165 1405 L2145 1415 Z"/>
<path class="w" d="M2160 1320 L2185 1315 L2190 1335 L2165 1342 Z"/>
<path d="M2075 1260 L2100 1248 M2110 1320 L2135 1308"/>
</g>
<g class="d" transform="translate(2660,560) scale(0.24917)" font-size="150.50">
<text x="1092" y="345">1700</text>
<path class="ld" d="M1052 325L800 402"/>
<path class="w" d="M545 300 L565 285 L800 402 L785 448 L540 345 Z"/>
<path class="h" d="M560 295 L795 410"/>
<path d="M680 350 L665 390 M740 380 L725 420"/>
<path class="w" d="M572 262 Q590 225 640 235 L700 268 Q715 290 700 322 L625 292 Z"/>
<path class="h" d="M585 240 Q640 240 700 275"/>
<path class="w" d="M368 252 Q380 215 420 220 L470 240 L600 300 L572 372 L420 322 Q358 300 368 252 Z"/>
<path class="h" d="M440 240 Q410 270 430 310 L560 360 M470 245 L590 300"/>
<path d="M480 280 L560 315 L545 350 M520 300 L510 335"/>
<text x="1052" y="750">1190</text>
<path class="ld" d="M1022 738L760 812"/>
</g>
<g class="d" transform="translate(2700,700) scale(0.08322)" font-size="450.59">
<path class="h w" d="M1290 1010 L1400 930 L1560 920 L1640 1000 L1680 1100 L1640 1180 L1540 1200 L1300 1100 Z"/>
<path class="k" d="M1290 1010 L1400 930 L1440 1010 L1300 1030 Z"/>
<path class="h w" d="M1450 980 L1530 960 L1560 1050 L1500 1060 Z"/>
<path d="M1340 1080 L1500 1140 M1520 1130 L1620 1110"/>
<ellipse class="w" cx="1085" cy="1130" rx="105" ry="90"/>
<path class="h w" d="M980 1080 Q1080 1120 1190 1060 L1150 960 L1000 960 Z"/>
<path class="k" d="M850 990 L960 1080 L1000 1100 L1010 1000 L930 960 Z"/>
<path class="k" d="M540 900 L600 880 L640 930 L630 1010 L580 1030 L545 990 Z"/>
<path class="h w" d="M600 860 L640 870 L640 900 L610 905 Z"/>
<path class="h w" d="M1420 640 L1560 600 L1720 560 L1800 720 L1780 800 L1560 880 L1450 830 Z"/>
<ellipse class="k" cx="1630" cy="540" rx="85" ry="80"/>
<ellipse class="w" cx="1628" cy="545" rx="32" ry="30"/>
<path class="h w" d="M1590 620 Q1650 590 1720 610 L1735 690 Q1680 730 1610 700 Z"/>
<path class="k" d="M1420 640 L1570 600 L1580 660 L1440 690 Z"/>
<path class="h w" d="M1550 850 L1700 790 L1720 810 L1560 870 Z"/>
<path class="k" d="M1150 800 L1400 760 L1560 860 L1560 920 L1400 930 L1290 1010 L1200 1090 L1160 1000 Z"/>
<path class="w" d="M1290 1010 L1400 935 L1430 1040 Z"/>
<path class="h w" d="M1150 390 Q1200 290 1290 290 Q1380 300 1400 380 L1450 520 L1420 590 L1340 540 Z"/>
<ellipse class="k" cx="1280" cy="385" rx="72" ry="68"/>
<ellipse class="w" cx="1275" cy="390" rx="30" ry="28"/>
<path class="h" d="M1320 470 L1390 450 M1350 530 L1420 510"/>
<path class="h w" d="M630 840 Q900 880 1200 850 Q1350 770 1400 650 Q1390 560 1350 530 L1130 400 L1050 350 L880 810 Z"/>
<path class="h" d="M640 870 Q780 910 930 905 M1190 900 Q1340 850 1390 760"/>
<path class="h w" d="M1000 960 Q1010 900 1060 905 Q1120 920 1120 980 L1080 1030 L1030 1020 Z"/>
<path class="k" d="M690 900 L790 915 L785 940 L685 925 Z"/>
<path class="k" d="M850 925 L920 920 L925 950 L855 955 Z"/>
<path class="h w" d="M1050 400 L1300 540 Q1340 620 1300 700 Q1250 760 1180 775 L880 812 Z"/>
<path class="h w" d="M250 680 L260 580 L410 230 Q420 190 455 185 L620 215 L640 240 L820 270 L870 290 L1050 350 L880 810 L800 830 L620 790 L480 750 L450 775 L270 740 Z"/>
<path class="k" d="M590 225 L630 235 L470 655 L430 645 Z"/>
<path class="k" d="M800 268 L870 290 L690 715 L620 700 Z"/>
<path class="k" d="M430 370 L500 360 L510 400 L490 470 L430 450 L425 410 Z"/>
<path class="h" d="M300 545 L440 580 M460 640 L620 690 M420 250 L560 275 M440 580 L420 740"/>
<path d="M930 320 L780 745 M960 335 L810 755 M1010 360 L850 790 M660 740 L780 760 M640 775 L820 810"/>
<path class="k" d="M620 770 L800 800 L810 830 L630 800 Z"/>
</g>
<g class="d" transform="translate(2660,560) scale(0.24917)" font-size="150.50">
<text x="1252" y="1098">952</text>
<path class="ld" d="M1228 1052L985 1103"/>
<path class="tb" stroke-width="5.5" d="M838 948C834.47 953.68 821.47 970.64 816.81 982.1C812.14 993.57 809.81 1005.47 810.01 1016.78C810.21 1028.1 805 1024.46 818 1050C831 1075.54 871.38 1146.83 888 1170C904.62 1193.17 908.11 1185.15 917.71 1188.99C927.31 1192.84 936.88 1194.24 945.59 1193.07C954.31 1191.91 964.09 1187.96 970 1182C975.91 1176.04 979.21 1166.9 981.05 1157.29C982.9 1147.67 982.9 1136.35 981.06 1124.31C979.21 1112.26 989.34 1117.05 970 1085C950.66 1052.95 882.5 957.5 865 932"/>
<path class="tw" stroke-width="1.9" d="M838 948C834.47 953.68 821.47 970.64 816.81 982.1C812.14 993.57 809.81 1005.47 810.01 1016.78C810.21 1028.1 805 1024.46 818 1050C831 1075.54 871.38 1146.83 888 1170C904.62 1193.17 908.11 1185.15 917.71 1188.99C927.31 1192.84 936.88 1194.24 945.59 1193.07C954.31 1191.91 964.09 1187.96 970 1182C975.91 1176.04 979.21 1166.9 981.05 1157.29C982.9 1147.67 982.9 1136.35 981.06 1124.31C979.21 1112.26 989.34 1117.05 970 1085C950.66 1052.95 882.5 957.5 865 932"/>
<path class="w" d="M815 912 L845 900 L872 930 L842 950 Z"/>
<path d="M828 925 L858 915"/>
<text x="816" y="1450">960</text>
<path class="ld" d="M790 1405L628 1360"/>
<path class="tb" stroke-width="5.5" d="M466 1195C462.47 1200.68 449.47 1217.64 444.81 1229.1C440.14 1240.57 437.81 1252.47 438.01 1263.78C438.21 1275.1 433 1271.46 446 1297C459 1322.54 499.38 1393.83 516 1417C532.62 1440.17 536.11 1432.15 545.71 1435.99C555.31 1439.84 564.88 1441.24 573.59 1440.07C582.31 1438.91 592.09 1434.96 598 1429C603.91 1423.04 607.21 1413.9 609.05 1404.29C610.9 1394.67 610.9 1383.35 609.06 1371.31C607.21 1359.26 617.34 1364.05 598 1332C578.66 1299.95 510.5 1204.5 493 1179"/>
<path class="tw" stroke-width="1.9" d="M466 1195C462.47 1200.68 449.47 1217.64 444.81 1229.1C440.14 1240.57 437.81 1252.47 438.01 1263.78C438.21 1275.1 433 1271.46 446 1297C459 1322.54 499.38 1393.83 516 1417C532.62 1440.17 536.11 1432.15 545.71 1435.99C555.31 1439.84 564.88 1441.24 573.59 1440.07C582.31 1438.91 592.09 1434.96 598 1429C603.91 1423.04 607.21 1413.9 609.05 1404.29C610.9 1394.67 610.9 1383.35 609.06 1371.31C607.21 1359.26 617.34 1364.05 598 1332C578.66 1299.95 510.5 1204.5 493 1179"/>
<path class="w" d="M443 1159 L473 1147 L500 1177 L470 1197 Z"/>
<path d="M456 1172 L486 1162"/>
<path class="ld" d="M40 1255L275 1332"/>
<path class="tb" stroke-width="5.5" d="M292 1372C288.87 1377.32 277.62 1393.03 273.24 1403.9C268.87 1414.77 266.3 1426.2 265.76 1437.22C265.22 1448.23 265.41 1459.21 270 1470C274.59 1480.79 284.19 1493.81 293.28 1501.98C302.38 1510.14 313.11 1515.97 324.56 1518.98C336.02 1521.98 352.78 1524.59 362 1520C371.22 1515.41 376.34 1501.85 379.89 1491.42C383.44 1480.99 384.61 1469.33 383.29 1457.42C381.98 1445.52 382.22 1437.57 372 1420C361.78 1402.43 330.33 1363.33 322 1352"/>
<path class="tw" stroke-width="1.9" d="M292 1372C288.87 1377.32 277.62 1393.03 273.24 1403.9C268.87 1414.77 266.3 1426.2 265.76 1437.22C265.22 1448.23 265.41 1459.21 270 1470C274.59 1480.79 284.19 1493.81 293.28 1501.98C302.38 1510.14 313.11 1515.97 324.56 1518.98C336.02 1521.98 352.78 1524.59 362 1520C371.22 1515.41 376.34 1501.85 379.89 1491.42C383.44 1480.99 384.61 1469.33 383.29 1457.42C381.98 1445.52 382.22 1437.57 372 1420C361.78 1402.43 330.33 1363.33 322 1352"/>
<path class="w" d="M272 1335 L308 1318 L330 1352 L296 1370 Z"/>
<path d="M285 1348 L318 1335"/>
</g>
<g class="d" transform="translate(2420,800) scale(0.24917)" font-size="150.50">
<text x="749" y="275">951</text>
<path class="ld" d="M1003 293L1240 368"/>
<text x="449" y="527">953</text>
<path class="ld" d="M730 490L935 582"/>
<text x="216" y="862">951</text>
<path class="ld" d="M482 802L700 797"/>
<path class="tb" stroke-width="5.5" d="M948 628C963.67 655.33 1019.92 759.85 1042 792C1064.08 824.15 1067.39 814.4 1080.5 820.91C1093.6 827.43 1107.37 830.93 1120.62 831.11C1133.87 831.3 1151.22 828.83 1160 822C1168.78 815.17 1171.52 802.36 1173.28 790.14C1175.04 777.92 1174.11 763.69 1170.56 748.66C1167.01 733.64 1161.1 716.06 1152 700C1142.9 683.94 1128.75 666.67 1115.94 652.32C1103.13 637.97 1089.13 624.78 1075.14 613.9C1061.15 603.01 1043.41 591.27 1032 587C1020.59 582.73 1014.87 586.94 1006.69 588.29C998.5 589.64 990.34 591.98 982.89 595.09C975.44 598.21 965.48 605.02 962 607"/>
<path class="tw" stroke-width="1.9" d="M948 628C963.67 655.33 1019.92 759.85 1042 792C1064.08 824.15 1067.39 814.4 1080.5 820.91C1093.6 827.43 1107.37 830.93 1120.62 831.11C1133.87 831.3 1151.22 828.83 1160 822C1168.78 815.17 1171.52 802.36 1173.28 790.14C1175.04 777.92 1174.11 763.69 1170.56 748.66C1167.01 733.64 1161.1 716.06 1152 700C1142.9 683.94 1128.75 666.67 1115.94 652.32C1103.13 637.97 1089.13 624.78 1075.14 613.9C1061.15 603.01 1043.41 591.27 1032 587C1020.59 582.73 1014.87 586.94 1006.69 588.29C998.5 589.64 990.34 591.98 982.89 595.09C975.44 598.21 965.48 605.02 962 607"/>
<path class="w" d="M922 585 L955 570 L975 605 L942 628 Z"/>
<path d="M935 600 L965 588"/>
<path class="tb" stroke-width="5.5" d="M770 735C763.66 736.55 741.99 739.06 731.97 744.29C721.95 749.52 714.36 757.1 709.87 766.39C705.37 775.67 702.98 788.01 705 800C707.02 811.99 714.93 828.11 722.01 838.36C729.1 848.61 737.85 856.54 747.51 861.48C757.18 866.42 770.17 869.66 780 868C789.83 866.34 799.79 858.71 806.47 851.55C813.14 844.38 817.81 835.28 820.07 825.03C822.32 814.77 820.83 798.87 820 790C819.17 781.13 817.31 777.41 815.07 771.83C812.83 766.26 809.91 761.01 806.57 756.53C803.22 752.06 796.93 746.92 795 745"/>
<path class="tw" stroke-width="1.9" d="M770 735C763.66 736.55 741.99 739.06 731.97 744.29C721.95 749.52 714.36 757.1 709.87 766.39C705.37 775.67 702.98 788.01 705 800C707.02 811.99 714.93 828.11 722.01 838.36C729.1 848.61 737.85 856.54 747.51 861.48C757.18 866.42 770.17 869.66 780 868C789.83 866.34 799.79 858.71 806.47 851.55C813.14 844.38 817.81 835.28 820.07 825.03C822.32 814.77 820.83 798.87 820 790C819.17 781.13 817.31 777.41 815.07 771.83C812.83 766.26 809.91 761.01 806.57 756.53C803.22 752.06 796.93 746.92 795 745"/>
<path class="w" d="M770 715 L805 708 L825 735 L810 758 L775 755 Z"/>
<path d="M772 735 L820 738"/>
</g>
<g class="d">
<path class="tb" transform="translate(0,0) scale(1.00000)" stroke-width="17" d="M3026.2 897C3031.75 897 3047.32 894.07 3059.5 897C3071.68 899.93 3083.8 905.3 3099.3 914.6C3114.8 923.9 3135.88 943.22 3152.5 952.8C3169.12 962.38 3180.18 967.12 3199 972.1C3217.82 977.08 3243.25 980.93 3265.4 982.7C3287.55 984.47 3304.2 983.97 3331.9 982.7C3359.6 981.43 3403.92 975.82 3431.6 975.1C3459.28 974.38 3478.63 976.85 3498 978.4C3517.37 979.95 3531.18 984.4 3547.8 984.4C3564.42 984.4 3581.08 983.12 3597.7 978.4C3614.32 973.68 3631.07 962.68 3647.5 956.1C3663.93 949.52 3680.97 940 3696.3 938.9C3711.63 937.8 3722.33 942.75 3739.5 949.5C3756.67 956.25 3778.25 971.1 3799.3 979.4C3820.35 987.7 3849.18 993.22 3865.8 999.3C3882.42 1005.38 3890.15 1009.25 3899 1015.9C3907.85 1022.55 3911.7 1029.23 3918.9 1039.2C3926.1 1049.17 3934.45 1067.4 3942.2 1075.7C3949.95 1084 3954.33 1085.95 3965.4 1089C3976.47 1092.05 3996.42 1090.67 4008.6 1094C4020.78 1097.33 4030.18 1100.42 4038.5 1109C4046.82 1117.58 4053.52 1133.88 4058.5 1145.5C4063.48 1157.12 4064.53 1172.05 4068.4 1178.7C4072.27 1185.35 4071.17 1185.67 4081.7 1185.4C4092.23 1185.13 4113.32 1177.38 4131.6 1177.1C4149.88 1176.82 4177.57 1184.53 4191.4 1183.7C4205.23 1182.87 4209.62 1177.35 4214.6 1172.1C4219.58 1166.85 4220.18 1155.52 4221.3 1152.2"/>
<path class="tb" transform="translate(3600,800) scale(0.33224)" stroke-width="5.5" d="M920 705 L915 870"/>
<path class="tb" transform="translate(2420,800) scale(0.24917)" stroke-width="11" d="M2200 520C2179.82 526.96 2116.07 546.88 2078.89 561.78C2041.7 576.67 2006.71 593.01 1976.89 609.38C1947.08 625.75 1925.63 643.31 1900 660C1874.37 676.69 1852.92 693.91 1823.11 709.53C1793.29 725.16 1758.3 740.32 1721.11 753.73C1683.93 767.14 1638.9 778.1 1600 790C1561.1 801.9 1523.44 810.19 1487.73 825.11C1452.02 840.03 1417.02 858.7 1385.73 879.51C1354.44 900.33 1325.11 925.23 1300 950C1274.89 974.77 1256.67 1002.06 1235.09 1028.11C1213.5 1054.16 1191.34 1081 1170.49 1106.31C1149.64 1131.63 1120.08 1167.72 1110 1180"/>
<path class="tb" transform="translate(2420,800) scale(0.24917)" stroke-width="11" d="M2200 580C2174.32 591.91 2094.24 625.37 2045.89 651.45C1997.54 677.52 1950.87 706.69 1909.89 736.44C1868.91 766.2 1829.32 805.13 1800 830C1770.68 854.87 1756.33 870.43 1734 885.65C1711.67 900.88 1688.33 913.13 1666 921.35C1643.67 929.58 1627.5 929.9 1600 935C1572.5 940.1 1534.5 943.77 1501 951.98C1467.5 960.19 1432.5 971.27 1399 984.28C1365.5 997.28 1328.97 1014.87 1300 1030C1271.03 1045.13 1248.96 1057.9 1225.16 1075.04C1201.35 1092.19 1178.02 1112.02 1157.16 1132.85C1136.3 1153.67 1109.53 1188.81 1100 1200"/>
<path class="tb" transform="translate(2420,800) scale(0.24917)" stroke-width="14" d="M2200 640C2178.91 652.09 2114.37 685.71 2073.44 712.53C2032.52 739.36 1991.69 769.69 1954.45 800.93C1917.2 832.18 1882.25 872.47 1850 900C1817.75 927.53 1792.21 948.31 1760.93 966.13C1729.66 983.95 1695.82 997.95 1662.33 1006.93C1628.84 1015.91 1589.88 1014.53 1560 1020C1530.12 1025.47 1510.6 1030.78 1483.04 1039.73C1455.48 1048.69 1425.15 1060.36 1394.64 1073.73C1364.14 1087.11 1328.07 1107.34 1300 1120C1271.93 1132.66 1249.3 1138.49 1226.24 1149.67C1203.19 1160.84 1181.02 1173.68 1161.64 1187.07C1142.27 1200.46 1118.61 1222.84 1110 1230"/>
<path class="tb" transform="translate(2300,1050) scale(0.33224)" stroke-width="6.5" d="M1030 430C1037.68 450.54 1055.92 512.28 1076.07 553.22C1096.21 594.16 1121.88 636.16 1150.87 675.62C1179.86 715.09 1217.89 757.54 1250 790C1282.11 822.46 1313.8 845.06 1343.55 870.35C1373.31 895.65 1402.48 920.15 1428.56 941.75C1454.63 963.36 1463.09 975.29 1500 1000C1536.91 1024.71 1625 1075 1650 1090"/>
<path class="tb" transform="translate(2300,1050) scale(0.33224)" stroke-width="9" d="M1560 1010C1576.15 1019.34 1627.14 1045.96 1656.89 1066.07C1686.64 1086.18 1714.64 1108.34 1738.49 1130.67C1762.34 1152.99 1776.41 1168.44 1800 1200C1823.59 1231.56 1866.67 1300 1880 1320"/>
<path class="tb" transform="translate(2300,1050) scale(0.33224)" stroke-width="5.5" d="M1870 1300C1873.12 1307.52 1882.76 1330.23 1888.71 1345.11C1894.66 1360 1900.5 1375.16 1905.71 1389.31C1910.93 1403.46 1917.62 1423.22 1920 1430"/>
<path class="tb" transform="translate(2300,1050) scale(0.33224)" stroke-width="5.5" d="M1880 1295C1885.41 1303.89 1901.66 1328.94 1912.46 1348.31C1923.25 1367.68 1934.33 1389.26 1944.76 1411.21C1955.18 1433.16 1969.96 1468.54 1975 1480"/>
<path class="tb" transform="translate(2300,1050) scale(0.33224)" stroke-width="5.5" d="M1890 1290C1900.65 1300.99 1935.31 1331.35 1953.89 1355.93C1972.47 1380.52 1988.8 1408.52 2001.49 1437.53C2014.17 1466.55 2025.25 1514.59 2030 1530"/>
<path class="tb" transform="translate(2300,1050) scale(0.33224)" stroke-width="42" d="M0 1214C90 1192.17 441.46 1108.76 540 1083C638.54 1057.24 576.74 1070.33 591.23 1059.43C605.72 1048.54 617.97 1034.19 626.93 1017.61C635.89 1001.04 639.89 979.32 645 960C650.11 940.68 651.24 921.04 657.59 901.69C663.94 882.34 672.69 862.5 683.09 843.89C693.49 825.27 701.93 815.11 720 790C738.07 764.89 767.69 727.5 791.51 693.24C815.33 658.98 839.83 621.65 862.91 584.44C885.99 547.24 908.66 504.2 930 470C951.34 435.8 967.49 409.38 990.97 379.23C1014.45 349.09 1041.86 318.17 1070.87 289.13C1099.87 260.09 1149.31 219.02 1165 205"/>
<path class="tb" transform="translate(1600,1250) scale(0.33224)" stroke-width="15" d="M1600 805C1611 817.75 1643.67 857.71 1666 881.51C1688.33 905.31 1711.67 928.06 1734 947.81C1756.33 967.56 1776.55 986.56 1800 1000C1823.45 1013.44 1846.39 1020.4 1874.71 1028.43C1903.03 1036.45 1935.7 1043.22 1969.91 1048.15C2004.13 1053.08 2044.64 1050.8 2080 1058C2115.36 1065.2 2146.45 1073.5 2182.05 1091.36C2217.64 1109.22 2255.91 1134.53 2293.57 1165.14C2331.23 1195.75 2388.93 1256.69 2408 1275"/>
<path class="tb" transform="translate(1600,1250) scale(0.33224)" stroke-width="42" d="M2450 530C2325 560.33 1840.04 675.26 1700 712C1559.96 748.74 1639.55 735.07 1609.78 750.43C1580.01 765.79 1549.67 784.22 1521.38 804.15C1493.08 824.08 1468.6 843.81 1440 870C1411.4 896.19 1379.55 930.79 1349.78 961.31C1320.01 991.83 1289.67 1023.33 1261.38 1053.11C1233.08 1082.89 1204.93 1114.88 1180 1140C1155.07 1165.12 1135.65 1182.98 1111.82 1203.82C1087.99 1224.66 1062.33 1245.66 1037.02 1265.02C1011.72 1284.38 987.15 1299.73 960 1320C932.85 1340.27 900.91 1363.87 874.13 1386.65C847.36 1409.44 821.69 1433.47 799.33 1456.69C776.98 1479.92 749.89 1514.45 740 1526"/>
<path class="tb" transform="translate(1600,1650) scale(0.33224)" stroke-width="40" d="M900 165C885.69 178.93 840.91 219.92 814.13 248.59C787.36 277.25 761.69 307.59 739.33 336.99C716.98 366.39 698.88 393.64 680 425C661.12 456.36 642.4 492 626.04 525.12C609.69 558.24 594.52 592.08 581.85 623.72C569.17 655.37 561.9 684.21 550 715C538.1 745.79 526.12 775.31 510.47 808.46C494.81 841.6 476.14 877.77 456.07 913.86C435.99 949.95 407.4 992.27 390 1025C372.6 1057.73 361.89 1080.44 351.64 1110.22C341.39 1140.01 333.46 1172.09 328.52 1203.72C323.58 1235.35 321.08 1271.01 322 1300C322.92 1328.99 327.61 1351.92 334.03 1377.68C340.46 1403.43 349.56 1429.79 360.55 1454.52C371.55 1479.24 393.43 1514.09 400 1526"/>
<path class="tb" transform="translate(1600,1950) scale(0.33224)" stroke-width="40" d="M455 0C443.43 20.55 404.51 84.61 385.57 123.29C366.63 161.97 351.46 199.3 341.37 232.09C331.27 264.87 326 288.47 325 320C324 351.53 329.4 388.5 335.38 421.24C341.36 453.98 350.11 486.65 360.88 516.44C371.65 546.24 387.63 579.92 400 600C412.37 620.08 420.19 627.67 435.11 636.94C450.03 646.22 468.7 652.63 489.51 655.64C510.33 658.65 532.67 655.94 560 655C587.33 654.06 621.47 649.98 653.49 650C685.5 650.02 719.34 651.77 752.09 655.1C784.84 658.43 833.68 667.52 850 670"/>
<path class="tb" transform="translate(1600,1950) scale(0.33224)" stroke-width="12" d="M815 735C819.11 751.59 828.47 799.51 839.67 834.51C850.86 869.51 865.45 907.43 882.17 945.01C898.89 982.59 924.77 1031.48 940 1060C955.23 1088.52 962 1098.28 973.54 1116.13C985.09 1133.99 997.34 1151.49 1009.24 1167.13C1021.15 1182.78 1039.04 1202.86 1045 1210"/>
<path class="tb" transform="translate(1600,1950) scale(0.33224)" stroke-width="13" d="M1150 640C1164.13 645.67 1208.75 659.85 1234.78 674.02C1260.81 688.19 1285.31 705.69 1306.18 725.02C1327.05 744.35 1331.03 744.17 1360 790C1388.97 835.83 1455.57 949.41 1480 1000C1504.43 1050.59 1504.43 1063.8 1506.6 1093.55C1508.76 1123.31 1504.1 1152.48 1493 1178.56C1481.9 1204.63 1464.23 1232.57 1440 1250C1415.77 1267.43 1378.87 1276.48 1347.6 1283.13C1316.33 1289.79 1283.67 1292.12 1252.4 1289.93C1221.13 1287.74 1181.36 1276.8 1160 1270C1138.64 1263.2 1134.99 1256.56 1124.21 1249.11C1113.43 1241.66 1103.51 1233.5 1095.31 1225.31C1087.11 1217.13 1078.39 1204.22 1075 1200"/>
<path class="tb" transform="translate(1600,1950) scale(0.33224)" stroke-width="9" d="M775 1020C780.78 1028.27 798.51 1056.23 809.67 1069.6C820.83 1082.97 831.91 1093.47 841.97 1100.2C852.02 1106.93 860.83 1112.74 870 1110C879.17 1107.26 889.96 1097.18 897.01 1083.73C904.06 1070.29 909.31 1051.62 912.31 1029.33C915.31 1007.04 914.82 968.82 915 950C915.18 931.18 914.49 925.67 913.37 916.39C912.24 907.1 910.49 899.52 908.27 894.29C906.04 889.06 901.38 886.55 900 885"/>
<path class="tb" transform="translate(2200,1700) scale(0.37375)" stroke-width="15" d="M535 -70C544.64 -60.1 577.27 -30.7 592.87 -10.6C608.46 9.5 620.71 30.5 628.57 50.6C636.42 70.7 640.65 91.74 640 110C639.35 128.26 632.91 146.4 624.69 160.14C616.47 173.88 604.8 184.97 590.69 192.44C576.57 199.92 557.99 205.74 540 205C522.01 204.26 501.38 196.23 482.78 188.02C464.17 179.81 445.51 168.73 428.38 155.72C411.25 142.72 398.06 127.62 380 110C361.94 92.38 330 60 320 50"/>
<path class="tw" transform="translate(0,0) scale(1.00000)" stroke-width="13.2" d="M3026.2 897C3031.75 897 3047.32 894.07 3059.5 897C3071.68 899.93 3083.8 905.3 3099.3 914.6C3114.8 923.9 3135.88 943.22 3152.5 952.8C3169.12 962.38 3180.18 967.12 3199 972.1C3217.82 977.08 3243.25 980.93 3265.4 982.7C3287.55 984.47 3304.2 983.97 3331.9 982.7C3359.6 981.43 3403.92 975.82 3431.6 975.1C3459.28 974.38 3478.63 976.85 3498 978.4C3517.37 979.95 3531.18 984.4 3547.8 984.4C3564.42 984.4 3581.08 983.12 3597.7 978.4C3614.32 973.68 3631.07 962.68 3647.5 956.1C3663.93 949.52 3680.97 940 3696.3 938.9C3711.63 937.8 3722.33 942.75 3739.5 949.5C3756.67 956.25 3778.25 971.1 3799.3 979.4C3820.35 987.7 3849.18 993.22 3865.8 999.3C3882.42 1005.38 3890.15 1009.25 3899 1015.9C3907.85 1022.55 3911.7 1029.23 3918.9 1039.2C3926.1 1049.17 3934.45 1067.4 3942.2 1075.7C3949.95 1084 3954.33 1085.95 3965.4 1089C3976.47 1092.05 3996.42 1090.67 4008.6 1094C4020.78 1097.33 4030.18 1100.42 4038.5 1109C4046.82 1117.58 4053.52 1133.88 4058.5 1145.5C4063.48 1157.12 4064.53 1172.05 4068.4 1178.7C4072.27 1185.35 4071.17 1185.67 4081.7 1185.4C4092.23 1185.13 4113.32 1177.38 4131.6 1177.1C4149.88 1176.82 4177.57 1184.53 4191.4 1183.7C4205.23 1182.87 4209.62 1177.35 4214.6 1172.1C4219.58 1166.85 4220.18 1155.52 4221.3 1152.2"/>
<path class="tw" transform="translate(3600,800) scale(0.33224)" stroke-width="1.9" d="M920 705 L915 870"/>
<path class="tw" transform="translate(2420,800) scale(0.24917)" stroke-width="7.2" d="M2200 520C2179.82 526.96 2116.07 546.88 2078.89 561.78C2041.7 576.67 2006.71 593.01 1976.89 609.38C1947.08 625.75 1925.63 643.31 1900 660C1874.37 676.69 1852.92 693.91 1823.11 709.53C1793.29 725.16 1758.3 740.32 1721.11 753.73C1683.93 767.14 1638.9 778.1 1600 790C1561.1 801.9 1523.44 810.19 1487.73 825.11C1452.02 840.03 1417.02 858.7 1385.73 879.51C1354.44 900.33 1325.11 925.23 1300 950C1274.89 974.77 1256.67 1002.06 1235.09 1028.11C1213.5 1054.16 1191.34 1081 1170.49 1106.31C1149.64 1131.63 1120.08 1167.72 1110 1180"/>
<path class="tw" transform="translate(2420,800) scale(0.24917)" stroke-width="7.2" d="M2200 580C2174.32 591.91 2094.24 625.37 2045.89 651.45C1997.54 677.52 1950.87 706.69 1909.89 736.44C1868.91 766.2 1829.32 805.13 1800 830C1770.68 854.87 1756.33 870.43 1734 885.65C1711.67 900.88 1688.33 913.13 1666 921.35C1643.67 929.58 1627.5 929.9 1600 935C1572.5 940.1 1534.5 943.77 1501 951.98C1467.5 960.19 1432.5 971.27 1399 984.28C1365.5 997.28 1328.97 1014.87 1300 1030C1271.03 1045.13 1248.96 1057.9 1225.16 1075.04C1201.35 1092.19 1178.02 1112.02 1157.16 1132.85C1136.3 1153.67 1109.53 1188.81 1100 1200"/>
<path class="tw" transform="translate(2420,800) scale(0.24917)" stroke-width="10.2" d="M2200 640C2178.91 652.09 2114.37 685.71 2073.44 712.53C2032.52 739.36 1991.69 769.69 1954.45 800.93C1917.2 832.18 1882.25 872.47 1850 900C1817.75 927.53 1792.21 948.31 1760.93 966.13C1729.66 983.95 1695.82 997.95 1662.33 1006.93C1628.84 1015.91 1589.88 1014.53 1560 1020C1530.12 1025.47 1510.6 1030.78 1483.04 1039.73C1455.48 1048.69 1425.15 1060.36 1394.64 1073.73C1364.14 1087.11 1328.07 1107.34 1300 1120C1271.93 1132.66 1249.3 1138.49 1226.24 1149.67C1203.19 1160.84 1181.02 1173.68 1161.64 1187.07C1142.27 1200.46 1118.61 1222.84 1110 1230"/>
<path class="tw" transform="translate(2300,1050) scale(0.33224)" stroke-width="3.3" d="M1030 430C1037.68 450.54 1055.92 512.28 1076.07 553.22C1096.21 594.16 1121.88 636.16 1150.87 675.62C1179.86 715.09 1217.89 757.54 1250 790C1282.11 822.46 1313.8 845.06 1343.55 870.35C1373.31 895.65 1402.48 920.15 1428.56 941.75C1454.63 963.36 1463.09 975.29 1500 1000C1536.91 1024.71 1625 1075 1650 1090"/>
<path class="tw" transform="translate(2300,1050) scale(0.33224)" stroke-width="5.8" d="M1560 1010C1576.15 1019.34 1627.14 1045.96 1656.89 1066.07C1686.64 1086.18 1714.64 1108.34 1738.49 1130.67C1762.34 1152.99 1776.41 1168.44 1800 1200C1823.59 1231.56 1866.67 1300 1880 1320"/>
<path class="tw" transform="translate(2300,1050) scale(0.33224)" stroke-width="1.9" d="M1870 1300C1873.12 1307.52 1882.76 1330.23 1888.71 1345.11C1894.66 1360 1900.5 1375.16 1905.71 1389.31C1910.93 1403.46 1917.62 1423.22 1920 1430"/>
<path class="tw" transform="translate(2300,1050) scale(0.33224)" stroke-width="1.9" d="M1880 1295C1885.41 1303.89 1901.66 1328.94 1912.46 1348.31C1923.25 1367.68 1934.33 1389.26 1944.76 1411.21C1955.18 1433.16 1969.96 1468.54 1975 1480"/>
<path class="tw" transform="translate(2300,1050) scale(0.33224)" stroke-width="1.9" d="M1890 1290C1900.65 1300.99 1935.31 1331.35 1953.89 1355.93C1972.47 1380.52 1988.8 1408.52 2001.49 1437.53C2014.17 1466.55 2025.25 1514.59 2030 1530"/>
<path class="tw" transform="translate(2300,1050) scale(0.33224)" stroke-width="38.2" d="M0 1214C90 1192.17 441.46 1108.76 540 1083C638.54 1057.24 576.74 1070.33 591.23 1059.43C605.72 1048.54 617.97 1034.19 626.93 1017.61C635.89 1001.04 639.89 979.32 645 960C650.11 940.68 651.24 921.04 657.59 901.69C663.94 882.34 672.69 862.5 683.09 843.89C693.49 825.27 701.93 815.11 720 790C738.07 764.89 767.69 727.5 791.51 693.24C815.33 658.98 839.83 621.65 862.91 584.44C885.99 547.24 908.66 504.2 930 470C951.34 435.8 967.49 409.38 990.97 379.23C1014.45 349.09 1041.86 318.17 1070.87 289.13C1099.87 260.09 1149.31 219.02 1165 205"/>
<path class="tw" transform="translate(1600,1250) scale(0.33224)" stroke-width="11.2" d="M1600 805C1611 817.75 1643.67 857.71 1666 881.51C1688.33 905.31 1711.67 928.06 1734 947.81C1756.33 967.56 1776.55 986.56 1800 1000C1823.45 1013.44 1846.39 1020.4 1874.71 1028.43C1903.03 1036.45 1935.7 1043.22 1969.91 1048.15C2004.13 1053.08 2044.64 1050.8 2080 1058C2115.36 1065.2 2146.45 1073.5 2182.05 1091.36C2217.64 1109.22 2255.91 1134.53 2293.57 1165.14C2331.23 1195.75 2388.93 1256.69 2408 1275"/>
<path class="tw" transform="translate(1600,1250) scale(0.33224)" stroke-width="38.2" d="M2450 530C2325 560.33 1840.04 675.26 1700 712C1559.96 748.74 1639.55 735.07 1609.78 750.43C1580.01 765.79 1549.67 784.22 1521.38 804.15C1493.08 824.08 1468.6 843.81 1440 870C1411.4 896.19 1379.55 930.79 1349.78 961.31C1320.01 991.83 1289.67 1023.33 1261.38 1053.11C1233.08 1082.89 1204.93 1114.88 1180 1140C1155.07 1165.12 1135.65 1182.98 1111.82 1203.82C1087.99 1224.66 1062.33 1245.66 1037.02 1265.02C1011.72 1284.38 987.15 1299.73 960 1320C932.85 1340.27 900.91 1363.87 874.13 1386.65C847.36 1409.44 821.69 1433.47 799.33 1456.69C776.98 1479.92 749.89 1514.45 740 1526"/>
<path class="tw" transform="translate(1600,1650) scale(0.33224)" stroke-width="36.2" d="M900 165C885.69 178.93 840.91 219.92 814.13 248.59C787.36 277.25 761.69 307.59 739.33 336.99C716.98 366.39 698.88 393.64 680 425C661.12 456.36 642.4 492 626.04 525.12C609.69 558.24 594.52 592.08 581.85 623.72C569.17 655.37 561.9 684.21 550 715C538.1 745.79 526.12 775.31 510.47 808.46C494.81 841.6 476.14 877.77 456.07 913.86C435.99 949.95 407.4 992.27 390 1025C372.6 1057.73 361.89 1080.44 351.64 1110.22C341.39 1140.01 333.46 1172.09 328.52 1203.72C323.58 1235.35 321.08 1271.01 322 1300C322.92 1328.99 327.61 1351.92 334.03 1377.68C340.46 1403.43 349.56 1429.79 360.55 1454.52C371.55 1479.24 393.43 1514.09 400 1526"/>
<path class="tw" transform="translate(1600,1950) scale(0.33224)" stroke-width="36.2" d="M455 0C443.43 20.55 404.51 84.61 385.57 123.29C366.63 161.97 351.46 199.3 341.37 232.09C331.27 264.87 326 288.47 325 320C324 351.53 329.4 388.5 335.38 421.24C341.36 453.98 350.11 486.65 360.88 516.44C371.65 546.24 387.63 579.92 400 600C412.37 620.08 420.19 627.67 435.11 636.94C450.03 646.22 468.7 652.63 489.51 655.64C510.33 658.65 532.67 655.94 560 655C587.33 654.06 621.47 649.98 653.49 650C685.5 650.02 719.34 651.77 752.09 655.1C784.84 658.43 833.68 667.52 850 670"/>
<path class="tw" transform="translate(1600,1950) scale(0.33224)" stroke-width="8.2" d="M815 735C819.11 751.59 828.47 799.51 839.67 834.51C850.86 869.51 865.45 907.43 882.17 945.01C898.89 982.59 924.77 1031.48 940 1060C955.23 1088.52 962 1098.28 973.54 1116.13C985.09 1133.99 997.34 1151.49 1009.24 1167.13C1021.15 1182.78 1039.04 1202.86 1045 1210"/>
<path class="tw" transform="translate(1600,1950) scale(0.33224)" stroke-width="9.2" d="M1150 640C1164.13 645.67 1208.75 659.85 1234.78 674.02C1260.81 688.19 1285.31 705.69 1306.18 725.02C1327.05 744.35 1331.03 744.17 1360 790C1388.97 835.83 1455.57 949.41 1480 1000C1504.43 1050.59 1504.43 1063.8 1506.6 1093.55C1508.76 1123.31 1504.1 1152.48 1493 1178.56C1481.9 1204.63 1464.23 1232.57 1440 1250C1415.77 1267.43 1378.87 1276.48 1347.6 1283.13C1316.33 1289.79 1283.67 1292.12 1252.4 1289.93C1221.13 1287.74 1181.36 1276.8 1160 1270C1138.64 1263.2 1134.99 1256.56 1124.21 1249.11C1113.43 1241.66 1103.51 1233.5 1095.31 1225.31C1087.11 1217.13 1078.39 1204.22 1075 1200"/>
<path class="tw" transform="translate(1600,1950) scale(0.33224)" stroke-width="5.2" d="M775 1020C780.78 1028.27 798.51 1056.23 809.67 1069.6C820.83 1082.97 831.91 1093.47 841.97 1100.2C852.02 1106.93 860.83 1112.74 870 1110C879.17 1107.26 889.96 1097.18 897.01 1083.73C904.06 1070.29 909.31 1051.62 912.31 1029.33C915.31 1007.04 914.82 968.82 915 950C915.18 931.18 914.49 925.67 913.37 916.39C912.24 907.1 910.49 899.52 908.27 894.29C906.04 889.06 901.38 886.55 900 885"/>
<path class="tw" transform="translate(2200,1700) scale(0.37375)" stroke-width="11.2" d="M535 -70C544.64 -60.1 577.27 -30.7 592.87 -10.6C608.46 9.5 620.71 30.5 628.57 50.6C636.42 70.7 640.65 91.74 640 110C639.35 128.26 632.91 146.4 624.69 160.14C616.47 173.88 604.8 184.97 590.69 192.44C576.57 199.92 557.99 205.74 540 205C522.01 204.26 501.38 196.23 482.78 188.02C464.17 179.81 445.51 168.73 428.38 155.72C411.25 142.72 398.06 127.62 380 110C361.94 92.38 330 60 320 50"/>
</g>
<g class="d">
<path class="tb" transform="translate(1600,1250) scale(0.33224)" stroke-width="13" d="M800 470C804.03 497.14 814.46 578.49 824.16 632.82C833.85 687.16 845.52 743.16 858.16 796.02C870.8 848.89 886.51 903.97 900 950C913.49 996.03 928.35 1034.27 939.12 1072.2C949.89 1110.13 958.64 1146.3 964.62 1177.6C970.6 1208.9 973.91 1237.83 975 1260C976.09 1282.17 973.81 1294.25 971.19 1310.62C968.57 1326.99 964.49 1343.33 959.29 1358.22C954.09 1373.12 943.21 1393.04 940 1400"/>
<path class="tb" transform="translate(1600,1250) scale(0.33224)" stroke-width="13" d="M845 470C849.49 496.23 861.48 576.78 871.91 627.38C882.35 677.97 894.6 728.14 907.61 773.58C920.63 819.01 935.5 856.73 950 900C964.5 943.27 982.38 992.32 994.63 1033.22C1006.89 1074.12 1016.8 1112.62 1023.53 1145.42C1030.26 1178.22 1033.36 1206.55 1035 1230C1036.64 1253.45 1035.65 1268.28 1033.4 1286.13C1031.15 1303.99 1027.07 1321.49 1021.5 1337.13C1015.93 1352.78 1003.58 1372.86 1000 1380"/>
<path class="tb" transform="translate(2300,1050) scale(0.33224)" stroke-width="18" d="M640 890C645.85 876.13 660.19 829.44 675.11 806.79C690.03 784.14 708.7 766.06 729.51 754.09C750.33 742.13 776.34 736.45 800 735C823.66 733.55 845.37 739.4 871.44 745.38C897.52 751.36 926.69 760.11 956.44 770.88C986.2 781.65 1017.91 798.74 1050 810C1082.09 821.26 1115.5 830.4 1149 838.43C1182.5 846.45 1217.5 853.22 1251 858.15C1284.5 863.08 1305.17 864.36 1350 868C1394.83 871.64 1491.67 878 1520 880"/>
<path class="tw" transform="translate(1600,1250) scale(0.33224)" stroke-width="9.2" d="M800 470C804.03 497.14 814.46 578.49 824.16 632.82C833.85 687.16 845.52 743.16 858.16 796.02C870.8 848.89 886.51 903.97 900 950C913.49 996.03 928.35 1034.27 939.12 1072.2C949.89 1110.13 958.64 1146.3 964.62 1177.6C970.6 1208.9 973.91 1237.83 975 1260C976.09 1282.17 973.81 1294.25 971.19 1310.62C968.57 1326.99 964.49 1343.33 959.29 1358.22C954.09 1373.12 943.21 1393.04 940 1400"/>
<path class="tw" transform="translate(1600,1250) scale(0.33224)" stroke-width="9.2" d="M845 470C849.49 496.23 861.48 576.78 871.91 627.38C882.35 677.97 894.6 728.14 907.61 773.58C920.63 819.01 935.5 856.73 950 900C964.5 943.27 982.38 992.32 994.63 1033.22C1006.89 1074.12 1016.8 1112.62 1023.53 1145.42C1030.26 1178.22 1033.36 1206.55 1035 1230C1036.64 1253.45 1035.65 1268.28 1033.4 1286.13C1031.15 1303.99 1027.07 1321.49 1021.5 1337.13C1015.93 1352.78 1003.58 1372.86 1000 1380"/>
<path class="tw" transform="translate(2300,1050) scale(0.33224)" stroke-width="14.2" d="M640 890C645.85 876.13 660.19 829.44 675.11 806.79C690.03 784.14 708.7 766.06 729.51 754.09C750.33 742.13 776.34 736.45 800 735C823.66 733.55 845.37 739.4 871.44 745.38C897.52 751.36 926.69 760.11 956.44 770.88C986.2 781.65 1017.91 798.74 1050 810C1082.09 821.26 1115.5 830.4 1149 838.43C1182.5 846.45 1217.5 853.22 1251 858.15C1284.5 863.08 1305.17 864.36 1350 868C1394.83 871.64 1491.67 878 1520 880"/>
</g>
<g class="d" transform="translate(2300,1050) scale(0.33224)" font-size="112.87">
<path class="t" d="M0 1172 L548 1040 Q598 1020 612 905 Q640 810 735 715 Q840 580 925 420 Q1000 300 1095 215"/>
<path class="w" d="M1130 180 Q1150 130 1205 122 L1215 160 Q1175 190 1170 240 Q1175 280 1160 295 Q1130 270 1130 180 Z"/>
<path d="M1100 185 L1130 205 M1010 255 L1020 290"/>
<path d="M630 880 Q640 905 680 895"/>
<path class="w" d="M1185 240 L1230 195 L1300 160 L1365 175 L1385 215 L1380 250 L1260 320 L1195 290 Z"/>
<ellipse class="w" cx="1335" cy="205" rx="48" ry="30" transform="rotate(-25 1335 205)"/>
<ellipse cx="1318" cy="208" rx="10" ry="14" transform="rotate(-25 1318 208)"/>
<ellipse cx="1348" cy="198" rx="10" ry="14" transform="rotate(-25 1348 198)"/>
<path class="k" d="M1185 245 L1230 225 L1250 300 L1240 315 L1195 290 Z"/>
<path class="w" d="M1200 262 L1225 252 L1232 280 L1208 288 Z"/>
<path class="h" d="M1245 230 Q1270 250 1265 310 M1280 200 L1275 225 L1255 232"/>
<path class="tb" stroke-width="5.5" d="M1505 905 L1540 925"/>
<path class="tb" stroke-width="5.5" d="M1510 940 L1545 960"/>
<path class="tb" stroke-width="5.5" d="M1515 975 L1550 995"/>
<path class="tw" stroke-width="1.9" d="M1505 905 L1540 925"/>
<path class="tw" stroke-width="1.9" d="M1510 940 L1545 960"/>
<path class="tw" stroke-width="1.9" d="M1515 975 L1550 995"/>
<path class="w" d="M1520 880 Q1530 845 1570 848 L1640 880 Q1690 920 1688 1000 Q1680 1060 1640 1068 L1590 1040 L1540 980 Z"/>
<ellipse class="w" cx="1650" cy="975" rx="35" ry="92" transform="rotate(-12 1650 975)"/>
<ellipse cx="1650" cy="975" rx="22" ry="75" transform="rotate(-12 1650 975)"/>
<ellipse cx="1640" cy="935" rx="8" ry="10"/>
<ellipse cx="1646" cy="985" rx="8" ry="10"/>
<ellipse cx="1652" cy="1030" rx="8" ry="10"/>
<path d="M1575 850 Q1560 900 1600 1040"/>
<path class="w" d="M1865 1335 L1890 1325 L1935 1430 L1910 1442 Z"/>
<path class="w" d="M1905 1390 L1935 1378 L1985 1490 L1955 1505 Z"/>
<path class="w" d="M1965 1440 L1995 1430 L2040 1540 L2010 1550 Z"/>
<ellipse class="w" cx="1920" cy="1482" rx="22" ry="26"/>
<ellipse class="k" cx="1920" cy="1482" rx="10" ry="12"/>
</g>
<g class="d" transform="translate(2700,1300) scale(0.33224)" font-size="112.87">
<ellipse class="w" cx="722" cy="745" rx="24" ry="28" transform="rotate(-20 722 745)"/>
<ellipse cx="722" cy="745" rx="11" ry="13" transform="rotate(-20 722 745)"/>
<ellipse class="w" cx="775" cy="797" rx="24" ry="28" transform="rotate(-20 775 797)"/>
<ellipse cx="775" cy="797" rx="11" ry="13" transform="rotate(-20 775 797)"/>
<ellipse class="w" cx="830" cy="850" rx="24" ry="28" transform="rotate(-20 830 850)"/>
<ellipse cx="830" cy="850" rx="11" ry="13" transform="rotate(-20 830 850)"/>
<text x="16" y="1212">1320</text>
<path class="ld" d="M280 1115L385 950"/>
<path class="ld" d="M285 1115L440 1005"/>
<path class="ld" d="M290 1112L495 1060"/>
<text x="486" y="1218">1340</text>
<path class="ld" d="M615 1100L580 850"/>
<path class="ld" d="M618 1100L635 905"/>
<path class="ld" d="M620 1100L700 960"/>
<path class="w" d="M420 915 L455 900 L462 918 L428 935 Z"/>
<ellipse class="w" cx="402" cy="937" rx="22" ry="28" transform="rotate(-20 402 937)"/>
<path class="w" d="M472 968 L507 952 L514 970 L480 988 Z"/>
<ellipse class="w" cx="455" cy="990" rx="22" ry="28" transform="rotate(-20 455 990)"/>
<path class="w" d="M526 1020 L561 1004 L568 1022 L534 1040 Z"/>
<ellipse class="w" cx="510" cy="1042" rx="22" ry="28" transform="rotate(-20 510 1042)"/>
<ellipse class="w" cx="580" cy="832" rx="22" ry="30" transform="rotate(-25 580 832)"/>
<ellipse cx="580" cy="832" rx="10" ry="14" transform="rotate(-25 580 832)"/>
<ellipse class="w" cx="633" cy="885" rx="22" ry="30" transform="rotate(-25 633 885)"/>
<ellipse cx="633" cy="885" rx="10" ry="14" transform="rotate(-25 633 885)"/>
<ellipse class="w" cx="686" cy="938" rx="22" ry="30" transform="rotate(-25 686 938)"/>
<ellipse cx="686" cy="938" rx="10" ry="14" transform="rotate(-25 686 938)"/>
</g>
<g class="d" transform="translate(2900,800) scale(0.33224)" font-size="112.87">
<text x="1839" y="295">1000</text>
<path class="ld" d="M1960 330L1945 527"/>
<text x="1837" y="952">935</text>
<path class="ld" d="M1818 906L1630 880"/>
<text x="420" y="995">930</text>
<path class="ld" d="M395 1005L240 1055"/>
<text x="1534" y="1330">170</text>
<path class="ld" d="M1502 1280L1300 1237"/>
</g>
<g class="d" transform="translate(2930,870) scale(0.08322)" font-size="450.59">
<path class="k" d="M240 680 L250 600 L290 575 L370 590 L350 470 L500 370 L590 360 L575 260 L640 210 L700 230 L770 300 L770 350 L950 300 L1080 260 L1180 270 L1230 330 L1230 400 L1380 450 L1460 450 L1550 760 L1540 820 L1400 900 L1340 1000 L1150 1120 L950 1175 L760 1150 L560 1195 L450 1190 L400 1100 L330 1010 L400 990 L320 700 Z"/>
<path class="t w" d="M340 720 L430 730 L510 1000 L430 1040 L400 960 Z"/>
<path class="t w" d="M730 740 L870 720 L950 1050 L810 1040 Z"/>
<path class="t w" d="M780 700 L880 650 L1020 650 L930 715 Z"/>
<path class="t w" d="M1040 570 L1130 510 L1280 520 L1190 580 Z"/>
<path class="t w" d="M970 510 L1180 380 L1200 420 L1010 540 Z"/>
<path class="t w" d="M940 370 L1000 310 L1090 320 L1020 370 Z"/>
<path class="t w" d="M510 750 L560 740 L585 820 L535 830 Z"/>
<path class="t w" d="M570 930 L610 930 L670 1100 L620 1090 Z"/>
<path class="t w" d="M440 470 L550 415 L555 435 L450 490 Z"/>
<path class="t w" d="M430 640 L570 570 L575 590 L440 660 Z"/>
<path class="t w" d="M450 1080 L520 1040 L540 1080 L470 1100 Z"/>
<path class="t w" d="M640 280 L690 260 L720 300 L680 330 Z"/>
<path class="t w" d="M1460 620 L1500 630 L1490 670 L1460 660 Z"/>
</g>
<g class="d" transform="translate(2900,800) scale(0.33224)" font-size="112.87">
<path class="tb" stroke-width="5.5" d="M1612 715C1606.49 722.24 1587.38 743.55 1578.92 758.44C1570.46 773.34 1564.39 789.09 1561.24 804.34C1558.09 819.6 1558.53 837.93 1560 850C1561.47 862.07 1565.46 869.89 1570.08 876.79C1574.71 883.69 1580.78 888.71 1587.76 891.41C1594.75 894.11 1604.65 898.14 1612 893C1619.35 887.86 1626.96 872.96 1631.85 860.59C1636.75 848.22 1640.01 833.87 1641.37 818.77C1642.73 803.67 1642.56 788.96 1640 770C1637.44 751.04 1628.33 715.83 1626 705"/>
<path class="tw" stroke-width="1.9" d="M1612 715C1606.49 722.24 1587.38 743.55 1578.92 758.44C1570.46 773.34 1564.39 789.09 1561.24 804.34C1558.09 819.6 1558.53 837.93 1560 850C1561.47 862.07 1565.46 869.89 1570.08 876.79C1574.71 883.69 1580.78 888.71 1587.76 891.41C1594.75 894.11 1604.65 898.14 1612 893C1619.35 887.86 1626.96 872.96 1631.85 860.59C1636.75 848.22 1640.01 833.87 1641.37 818.77C1642.73 803.67 1642.56 788.96 1640 770C1637.44 751.04 1628.33 715.83 1626 705"/>
<path class="t" d="M1600 730 Q1585 800 1600 880"/>
<path class="w" d="M1598 695 L1625 688 L1638 712 L1610 722 Z"/>
</g>
<g class="d" transform="translate(2400,1000) scale(0.49834)" font-size="75.25">
<path class="tb" stroke-width="5.5" d="M1130 268C1122.5 264.17 1100 250.33 1085 245C1070 239.67 1054.17 235.17 1040 236C1025.83 236.83 1010.83 241 1000 250C989.17 259 980.83 273.33 975 290C969.17 306.67 970 326.67 965 350C960 373.33 953.33 405 945 430C936.67 455 921.33 480.83 915 500C908.67 519.17 903.67 531.67 907 545C910.33 558.33 919.5 572.17 935 580C950.5 587.83 975.83 593.67 1000 592C1024.17 590.33 1055 578.67 1080 570C1105 561.33 1130.83 551.67 1150 540C1169.17 528.33 1184.17 516.67 1195 500C1205.83 483.33 1213.33 460 1215 440C1216.67 420 1210.83 400 1205 380C1199.17 360 1190 338 1180 320C1170 302 1150.83 280 1145 272"/>
<path class="tw" stroke-width="1.9" d="M1130 268C1122.5 264.17 1100 250.33 1085 245C1070 239.67 1054.17 235.17 1040 236C1025.83 236.83 1010.83 241 1000 250C989.17 259 980.83 273.33 975 290C969.17 306.67 970 326.67 965 350C960 373.33 953.33 405 945 430C936.67 455 921.33 480.83 915 500C908.67 519.17 903.67 531.67 907 545C910.33 558.33 919.5 572.17 935 580C950.5 587.83 975.83 593.67 1000 592C1024.17 590.33 1055 578.67 1080 570C1105 561.33 1130.83 551.67 1150 540C1169.17 528.33 1184.17 516.67 1195 500C1205.83 483.33 1213.33 460 1215 440C1216.67 420 1210.83 400 1205 380C1199.17 360 1190 338 1180 320C1170 302 1150.83 280 1145 272"/>
<path class="w" d="M1120 232 L1136 228 L1142 255 L1150 272 L1132 282 L1124 262 Z"/>
<path d="M1124 258 L1146 252"/>
</g>
<g class="d" transform="translate(2900,800) scale(0.33224)" font-size="112.87">
<path class="w" d="M1130 1250 L1245 1215 L1255 1245 L1140 1282 Q1120 1278 1130 1250 Z"/>
<ellipse cx="1135" cy="1267" rx="9" ry="14" transform="rotate(-15 1135 1267)"/>
<ellipse class="w" cx="1268" cy="1212" rx="33" ry="46" transform="rotate(-15 1268 1212)"/>
<ellipse cx="1262" cy="1214" rx="24" ry="36" transform="rotate(-15 1262 1214)"/>
</g>
<g class="d" transform="translate(3600,800) scale(0.33224)" font-size="112.87">
<text x="1460" y="570">937</text>
<path class="ld" d="M1445 537L1200 552"/>
<path class="tb" stroke-width="6" d="M1175 510C1169.49 511 1152.01 513.04 1141.97 516.02C1131.93 519.01 1122.59 523.09 1114.77 527.92C1106.94 532.75 1098.95 537.69 1095 545C1091.05 552.31 1090.32 563.73 1091.09 571.76C1091.85 579.79 1094.77 587.14 1099.59 593.18C1104.41 599.22 1111.64 605.52 1120 608C1128.36 610.48 1140.81 609.63 1149.73 608.05C1158.66 606.47 1166.82 603.2 1173.53 598.53C1180.24 593.85 1186.61 587.03 1190 580C1193.39 572.97 1193.51 564.55 1193.88 556.36C1194.24 548.16 1193.66 539.41 1192.18 530.86C1190.7 522.3 1186.2 509.31 1185 505"/>
<path class="tw" stroke-width="2.2" d="M1175 510C1169.49 511 1152.01 513.04 1141.97 516.02C1131.93 519.01 1122.59 523.09 1114.77 527.92C1106.94 532.75 1098.95 537.69 1095 545C1091.05 552.31 1090.32 563.73 1091.09 571.76C1091.85 579.79 1094.77 587.14 1099.59 593.18C1104.41 599.22 1111.64 605.52 1120 608C1128.36 610.48 1140.81 609.63 1149.73 608.05C1158.66 606.47 1166.82 603.2 1173.53 598.53C1180.24 593.85 1186.61 587.03 1190 580C1193.39 572.97 1193.51 564.55 1193.88 556.36C1194.24 548.16 1193.66 539.41 1192.18 530.86C1190.7 522.3 1186.2 509.31 1185 505"/>
<path class="w" d="M1158 475 L1190 465 L1200 490 L1172 505 Z"/>
<path class="w" d="M885 880 L960 862 L985 900 L975 940 L935 960 L895 945 L880 910 Z"/>
<path class="k" d="M895 888 L955 875 L972 905 L965 935 L905 940 Z"/>
<path class="w" d="M910 895 L950 888 L958 920 L918 925 Z"/>
<path d="M925 890 L930 922 M912 908 L955 903"/>
<path class="k" d="M920 948 L975 938 L978 952 L925 962 Z"/>
<path class="w" d="M1085 790 L1110 780 L1130 795 L1120 815 L1090 812 Z"/>
<path class="tb" stroke-width="7" d="M1105 850C1106.19 844.4 1108.38 825.67 1112.11 816.39C1115.85 807.1 1121.1 799.52 1127.41 794.29C1133.73 789.06 1141.09 784.26 1150 785C1158.91 785.74 1172.31 792.74 1180.85 798.71C1189.4 804.68 1196.4 812.26 1201.26 820.81C1206.11 829.36 1208.21 830.97 1210 850C1211.79 869.03 1211.67 920.83 1212 935"/>
<path class="tw" stroke-width="3.6" d="M1105 850C1106.19 844.4 1108.38 825.67 1112.11 816.39C1115.85 807.1 1121.1 799.52 1127.41 794.29C1133.73 789.06 1141.09 784.26 1150 785C1158.91 785.74 1172.31 792.74 1180.85 798.71C1189.4 804.68 1196.4 812.26 1201.26 820.81C1206.11 829.36 1208.21 830.97 1210 850C1211.79 869.03 1211.67 920.83 1212 935"/>
<path class="w" d="M1185 905 L1225 905 L1225 940 L1190 942 Z"/>
<path class="w" d="M1625 1000 Q1630 960 1660 945 L1780 890 L1860 930 L1895 975 L1890 1030 L1830 1105 L1760 1110 L1640 1080 Q1620 1060 1625 1000 Z"/>
<path class="k" d="M1700 1030 L1780 990 L1860 960 L1890 1000 L1885 1030 L1830 1100 L1760 1105 L1710 1090 Z"/>
<ellipse class="w" cx="1740" cy="1040" rx="28" ry="22" transform="rotate(-25 1740 1040)"/>
<ellipse class="w" cx="1735" cy="1078" rx="28" ry="22" transform="rotate(-25 1735 1078)"/>
<ellipse class="w" cx="1870" cy="990" rx="20" ry="16" transform="rotate(-25 1870 990)"/>
<ellipse class="w" cx="1870" cy="1025" rx="20" ry="16" transform="rotate(-25 1870 1025)"/>
<path class="w" d="M1790 1010 L1850 985 L1860 1000 L1800 1028 Z"/>
<path class="w" d="M1800 1050 L1860 1040 L1850 1090 L1810 1095 Z"/>
<path d="M1700 950 L1720 1010 L1700 1085 M1660 985 L1700 970"/>
<path class="h" d="M1725 1000 L1855 935"/>
</g>
<g class="d" transform="translate(1600,1250) scale(0.33224)" font-size="112.87">
<text x="-7" y="770">929</text>
<path class="ld" d="M205 737L560 742"/>
<path class="tb" stroke-width="6" d="M605 655C600.96 659.49 587.05 671.48 580.74 681.91C574.44 692.35 569.77 704.6 567.14 717.61C564.52 730.63 562.71 747.15 565 760C567.29 772.85 573.42 784.67 580.89 794.7C588.35 804.73 598.27 813.48 609.79 820.2C621.31 826.92 636.54 833.99 650 835C663.46 836.01 678.79 831.11 690.54 826.25C702.28 821.4 712.55 814.4 720.46 805.86C728.37 797.31 736.17 784.82 738 775C739.83 765.18 735.26 755.86 731.45 746.93C727.63 738.01 722.03 729.26 715.13 721.43C708.22 713.61 705.02 712.74 690 700C674.98 687.26 635.83 654.17 625 645"/>
<path class="tw" stroke-width="2.2" d="M605 655C600.96 659.49 587.05 671.48 580.74 681.91C574.44 692.35 569.77 704.6 567.14 717.61C564.52 730.63 562.71 747.15 565 760C567.29 772.85 573.42 784.67 580.89 794.7C588.35 804.73 598.27 813.48 609.79 820.2C621.31 826.92 636.54 833.99 650 835C663.46 836.01 678.79 831.11 690.54 826.25C702.28 821.4 712.55 814.4 720.46 805.86C728.37 797.31 736.17 784.82 738 775C739.83 765.18 735.26 755.86 731.45 746.93C727.63 738.01 722.03 729.26 715.13 721.43C708.22 713.61 705.02 712.74 690 700C674.98 687.26 635.83 654.17 625 645"/>
<path class="w" d="M585 632 L612 620 L635 640 L610 662 Z"/>
<path d="M598 640 L622 632"/>
<path class="t" d="M1660 665 Q1520 740 1320 935 Q1150 1130 1050 1195"/>
<path d="M1590 815 L1620 780 L1650 795"/>
<path class="w" d="M705 290 L858 265 L875 360 L860 372 L870 455 L755 472 L740 395 L720 398 Z"/>
<path class="h" d="M712 292 L728 395 M722 292 L738 392"/>
<path d="M740 395 L860 372 M790 280 L805 380 L820 465 M840 270 L852 368"/>
<path class="k" d="M795 295 L830 290 L835 330 L800 335 Z"/>
<path class="w" d="M808 300 L820 298 L822 325 L812 326 Z"/>
<path class="g" d="M820 410 L868 404 L872 440 L826 446 Z"/>
<path class="tb" stroke-width="4" d="M960 835 L975 930 L995 1028"/>
<path class="tw" stroke-width="1.4" d="M960 835 L975 930 L995 1028"/>
<path class="w" d="M875 572 L985 555 L1000 640 L1008 790 L985 800 L1000 825 L930 835 L925 805 L905 805 L890 700 Z"/>
<path class="k" d="M900 590 L915 588 L925 660 L910 662 Z"/>
<path class="k" d="M950 600 L975 597 L978 625 L955 628 Z"/>
<path d="M960 562 L975 640 L985 800 M905 700 L975 690 M990 590 L1000 640"/>
<path class="k" d="M925 810 L995 800 L1000 825 L930 835 Z"/>
<path class="w" d="M940 812 L960 810 L962 826 L943 828 Z"/>
<path class="tb" stroke-width="6" d="M1535 1140C1526.27 1150.81 1496.75 1181 1482.65 1204.84C1468.54 1228.69 1457.45 1255.52 1450.35 1283.05C1443.24 1310.57 1439.35 1342.3 1440 1370C1440.65 1397.7 1446.75 1424.72 1454.22 1449.27C1461.69 1473.81 1472.19 1497.14 1484.82 1517.27C1497.45 1537.39 1512.57 1555.48 1530 1570C1547.43 1584.52 1569.3 1595.72 1589.4 1604.41C1609.5 1613.09 1630.5 1619.15 1650.6 1622.09C1670.7 1625.02 1691.02 1626.4 1710 1622C1728.98 1617.6 1747.77 1607.55 1764.5 1595.69C1781.23 1583.82 1796.98 1568.42 1810.4 1550.81C1823.82 1533.19 1837.84 1511.13 1845 1490C1852.16 1468.87 1853.36 1446.33 1853.33 1424C1853.3 1401.67 1850.39 1378.33 1844.83 1356C1839.28 1333.67 1831.83 1312.57 1820 1290C1808.17 1267.43 1791.75 1240.67 1773.87 1220.6C1755.98 1200.53 1734.98 1183.03 1712.67 1169.6C1690.36 1156.17 1667.94 1146.93 1640 1140C1612.06 1133.07 1560.83 1130 1545 1128"/>
<path class="tw" stroke-width="2.2" d="M1535 1140C1526.27 1150.81 1496.75 1181 1482.65 1204.84C1468.54 1228.69 1457.45 1255.52 1450.35 1283.05C1443.24 1310.57 1439.35 1342.3 1440 1370C1440.65 1397.7 1446.75 1424.72 1454.22 1449.27C1461.69 1473.81 1472.19 1497.14 1484.82 1517.27C1497.45 1537.39 1512.57 1555.48 1530 1570C1547.43 1584.52 1569.3 1595.72 1589.4 1604.41C1609.5 1613.09 1630.5 1619.15 1650.6 1622.09C1670.7 1625.02 1691.02 1626.4 1710 1622C1728.98 1617.6 1747.77 1607.55 1764.5 1595.69C1781.23 1583.82 1796.98 1568.42 1810.4 1550.81C1823.82 1533.19 1837.84 1511.13 1845 1490C1852.16 1468.87 1853.36 1446.33 1853.33 1424C1853.3 1401.67 1850.39 1378.33 1844.83 1356C1839.28 1333.67 1831.83 1312.57 1820 1290C1808.17 1267.43 1791.75 1240.67 1773.87 1220.6C1755.98 1200.53 1734.98 1183.03 1712.67 1169.6C1690.36 1156.17 1667.94 1146.93 1640 1140C1612.06 1133.07 1560.83 1130 1545 1128"/>
<path class="t" d="M1530 1165 Q1460 1250 1462 1370"/>
<path class="w" d="M1522 1060 L1548 1056 L1552 1100 L1562 1125 L1530 1140 L1518 1110 L1528 1100 Z"/>
<path d="M1520 1100 L1560 1098"/>
<path class="w" d="M2020 1305 L2085 1265 L2215 1345 L2220 1385 L2150 1440 L2090 1452 L2030 1440 L1990 1400 Q1985 1360 2020 1305 Z"/>
<path class="k" d="M2110 1320 L2190 1345 L2200 1380 L2140 1400 L2100 1370 Z"/>
<path class="w" d="M2125 1335 L2160 1345 L2150 1365 L2118 1355 Z"/>
<path class="w" d="M2165 1365 L2190 1372 L2185 1385 L2160 1380 Z"/>
<path d="M2020 1305 L2030 1345 L2100 1375 M2030 1345 Q2000 1380 2010 1420 M2060 1390 Q2040 1420 2060 1445 L2120 1440 M2100 1400 L2210 1385"/>
<path class="k" d="M2065 1395 L2100 1385 L2110 1410 L2075 1420 Z"/>
</g>
<g class="d" transform="translate(1600,1650) scale(0.33224)" font-size="112.87">
<text x="1309" y="803">926</text>
<path class="ld" d="M1323 697L1278 562"/>
<text x="1866" y="708">928</text>
<path class="ld" d="M1878 597L1780 400"/>
<path class="w" d="M1155 362 L1190 348 L1285 540 L1275 560 L1255 555 L1170 410 Z"/>
<path d="M1165 385 L1200 372 M1172 410 L1205 395 M1215 480 L1240 470"/>
<path class="t" d="M985 180 Q860 270 760 420 Q680 540 630 690 Q570 840 480 1000 Q410 1130 392 1250 Q400 1400 460 1500"/>
<path class="t" d="M800 175 L960 70 M840 250 L1000 160 M800 190 L815 160 M840 250 L880 235 L870 260"/>
</g>
<g class="d" transform="translate(1600,1950) scale(0.33224)" font-size="112.87">
<text x="266" y="1255">850</text>
<path class="ld" d="M245 1205L125 1135"/>
<path class="ld" d="M245 1208L80 1200"/>
<text x="72" y="1510">200</text>
<path class="ld" d="M50 1465L0 1465"/>
<path class="w" d="M78 1105 L100 1090 L125 1100 L128 1128 L105 1142 L80 1132 Z"/>
<ellipse cx="102" cy="1116" rx="10" ry="12"/>
<path class="w" d="M40 1168 L62 1153 L87 1163 L90 1191 L67 1205 L42 1195 Z"/>
<ellipse cx="64" cy="1179" rx="10" ry="12"/>
<path class="w" d="M790 720 Q800 640 850 605 L990 612 Q980 700 900 735 Q840 745 790 720 Z"/>
<path d="M830 615 Q800 660 795 720"/>
<path class="w" d="M420 620 Q470 575 560 580 L575 600 L470 640 Z"/>
<ellipse class="w" cx="410" cy="695" rx="38" ry="50" transform="rotate(10 410 695)"/>
<ellipse class="w" cx="398" cy="700" rx="20" ry="30" transform="rotate(10 398 700)"/>
<path class="w" d="M360 705 L385 690 L400 715 L385 735 L362 730 Z"/>
<path class="t" d="M440 740 Q500 770 560 735"/>
<ellipse class="w" cx="1050" cy="1215" rx="30" ry="42" transform="rotate(15 1050 1215)"/>
<ellipse class="w" cx="1035" cy="1222" rx="18" ry="26" transform="rotate(15 1035 1222)"/>
<path class="w" d="M990 1235 L1015 1215 L1035 1240 L1020 1258 L992 1255 Z"/>
<path class="tb" stroke-width="6" d="M1080 1195 L1155 1110"/>
<path class="tw" stroke-width="3" d="M1080 1195 L1155 1110"/>
<path class="k" d="M1135 1100 L1160 1095 L1168 1115 L1145 1125 Z"/>
<path class="w" d="M675 935 L700 915 L745 950 L790 945 L800 985 L770 1040 L735 1050 L695 1000 Z"/>
<path class="k" d="M690 975 L735 950 L760 970 L720 1000 Z"/>
<path class="w" d="M740 905 L765 885 L770 915 L755 935 Z"/>
<path d="M745 1000 L760 1045 M700 918 L720 950"/>
<path class="w" d="M1020 580 L1060 555 L1190 590 L1200 620 L1185 640 L1170 680 L1130 690 L1020 635 Z"/>
<path class="h" d="M1020 580 L1020 635 M1060 560 L1060 650"/>
<path d="M1140 605 L1130 690 M1060 575 L1190 610 M1180 585 L1205 595"/>
<path class="w" d="M725 260 Q730 240 760 225 L900 135 Q935 118 960 135 L1100 215 Q1125 235 1125 260 L1135 350 L1165 350 L1165 400 L1135 410 L1130 520 L1000 600 L965 605 L900 610 L720 520 L710 410 Q700 380 715 360 Z"/>
<path class="w" d="M735 250 L915 135 Q935 125 955 135 L1110 225 Q1120 240 1105 255 L945 350 Q920 365 895 350 L745 275 Q730 262 735 250 Z"/>
<path d="M900 350 Q880 380 890 480 L895 600 M945 350 Q935 380 940 470 M725 262 L715 360 M1125 262 L1135 350"/>
<path class="h" d="M705 400 L890 485 Q920 495 950 480 L1135 370"/>
<path d="M705 430 L890 510 Q920 520 950 505 L1135 400"/>
<path d="M770 225 L920 310 M800 205 L950 290 M835 185 L985 270 M870 165 L1020 250 M905 145 L1055 230"/>
<path d="M835 285 L985 185 M880 310 L1030 205 M925 335 L1075 235 M790 260 L940 160"/>
<ellipse class="k" cx="920" cy="235" rx="14" ry="10"/>
<path class="k" d="M850 200 L885 180 L905 195 L870 215 Z"/>
<path class="k" d="M930 160 L960 148 L975 162 L945 175 Z"/>
<path class="k" d="M985 270 L1020 250 L1040 262 L1005 282 Z"/>
<path class="w" d="M1035 165 Q1060 155 1085 170 Q1105 185 1095 210 L1075 200 Q1050 185 1040 190 Z"/>
<path class="h" d="M750 340 Q760 320 790 335 L825 360 L835 540 L815 570 Q790 560 765 520 Z"/>
<path class="g" d="M772 365 L810 385 L815 530 L780 505 Z"/>
<path d="M965 540 L965 605 M1000 520 L1000 600 M1075 470 L1080 540 M1100 455 L1105 525 M965 540 L1000 520 M1010 500 L1070 465"/>
<path class="w" d="M960 530 L1010 505 L1015 585 L965 605 Z"/>
</g>
<g class="d" transform="translate(3000,1150) scale(0.24917)" font-size="150.50">
<text x="1345" y="900">150</text>
<path class="ld" d="M1312 838L1010 820"/>
<text x="182" y="1020">180</text>
<path class="ld" d="M300 872L330 688"/>
<path class="w" d="M480 232 Q500 205 530 195 L560 200 L600 235 L540 290 L530 420 L480 400 Z"/>
<path class="w" d="M485 462 Q500 445 520 440 L535 650 L485 622 Z"/>
<path class="w" d="M530 285 L620 225 L660 225 L770 310 L810 390 L870 385 L920 430 L960 520 L1010 610 L1015 780 L975 905 L865 962 L800 952 L730 895 L535 745 Z"/>
<path d="M530 285 L660 385 L800 470 L855 570 L865 962 M855 570 L960 520 M850 600 L855 950"/>
<path class="t" d="M545 740 L730 880 L800 940 L860 948"/>
<path class="w" d="M665 385 L665 470 Q690 505 722 495 L722 440 L690 400 Z"/>
<ellipse cx="695" cy="458" rx="13" ry="18"/>
<path class="w" d="M675 795 Q700 770 730 800 L730 895 L672 850 Z"/>
<ellipse cx="700" cy="826" rx="13" ry="18"/>
<path class="h" d="M600 285 L650 250 M640 315 L700 275 M680 330 L745 295 M790 425 L860 392 M820 470 L890 435 M850 510 L925 475 M875 548 L950 515"/>
<path d="M610 260 L770 370 M770 310 L790 425 M600 285 L740 380 M800 470 L960 520"/>
<path class="k" d="M800 420 L830 408 L850 440 L820 455 Z"/>
<path class="k" d="M870 500 L900 488 L915 520 L885 535 Z"/>
<path class="w" d="M245 572 L295 548 L355 590 L355 676 L305 692 L245 650 Z"/>
<path d="M245 572 L305 612 L355 590 M305 612 L305 692"/>
<ellipse class="k" cx="275" cy="630" rx="24" ry="30"/>
<ellipse class="w" cx="277" cy="630" rx="11" ry="14"/>
</g>
<g class="d" transform="translate(2250,1330) scale(0.24917)" font-size="150.50">
<text x="1616" y="460">945</text>
<path class="ld" d="M1612 347L1455 235"/>
<text x="1034" y="1212">925</text>
<path class="ld" d="M1010 1138L665 1035"/>
<path class="tb" stroke-width="6" d="M1400 120C1404.92 119.07 1420.74 113.65 1429.52 114.42C1438.29 115.19 1446.22 118.69 1452.64 124.62C1459.05 130.55 1466.16 139.35 1468 150C1469.84 160.65 1467.1 175.86 1463.66 188.51C1460.21 201.16 1454.61 214 1447.34 225.91C1440.06 237.83 1427.77 253.3 1420 260C1412.23 266.7 1407.07 265.36 1400.74 266.09C1394.42 266.82 1388 266.24 1382.04 264.39C1376.09 262.54 1367.84 256.56 1365 255"/>
<path class="tw" stroke-width="2.2" d="M1400 120C1404.92 119.07 1420.74 113.65 1429.52 114.42C1438.29 115.19 1446.22 118.69 1452.64 124.62C1459.05 130.55 1466.16 139.35 1468 150C1469.84 160.65 1467.1 175.86 1463.66 188.51C1460.21 201.16 1454.61 214 1447.34 225.91C1440.06 237.83 1427.77 253.3 1420 260C1412.23 266.7 1407.07 265.36 1400.74 266.09C1394.42 266.82 1388 266.24 1382.04 264.39C1376.09 262.54 1367.84 256.56 1365 255"/>
<path class="w" d="M1352 140 Q1360 115 1385 118 L1420 130 L1415 165 L1400 175 L1395 250 L1365 255 L1358 180 Z"/>
<path d="M1370 130 L1372 170 L1400 175 M1358 180 L1395 185 M1362 225 L1395 225"/>
<path class="tb" stroke-width="6" d="M600 860C604.77 859.99 620.47 857.68 628.64 859.93C636.82 862.19 643.82 866.86 649.04 873.53C654.27 880.21 658.16 884.95 660 900C661.84 915.05 662.32 942.98 660.07 963.82C657.81 984.66 653.14 1005.66 646.47 1025.02C639.79 1044.38 628.81 1068.44 620 1080C611.19 1091.56 602.53 1091.4 593.6 1094.35C584.67 1097.31 575.33 1098.48 566.4 1097.76C557.47 1097.03 544.4 1091.29 540 1090"/>
<path class="tw" stroke-width="2.2" d="M600 860C604.77 859.99 620.47 857.68 628.64 859.93C636.82 862.19 643.82 866.86 649.04 873.53C654.27 880.21 658.16 884.95 660 900C661.84 915.05 662.32 942.98 660.07 963.82C657.81 984.66 653.14 1005.66 646.47 1025.02C639.79 1044.38 628.81 1068.44 620 1080C611.19 1091.56 602.53 1091.4 593.6 1094.35C584.67 1097.31 575.33 1098.48 566.4 1097.76C557.47 1097.03 544.4 1091.29 540 1090"/>
<path class="w" d="M538 862 Q545 838 565 842 L585 880 L570 905 L555 1000 L545 1090 L520 1075 L525 1000 L545 900 Z"/>
<path d="M555 850 L560 900 M530 1040 L550 1045"/>
</g>
<g class="d" transform="translate(0,2900) scale(0.24917)" font-size="150.50">
<text x="436" y="408" font-size="154.51">09S1902</text>
</g>
<g class="d" transform="translate(0,0) scale(1.00000)" font-size="37.50">
</g>
<g class="d">
<path class="tb" transform="translate(0,0) scale(1.00000)" stroke-width="20" d="M2262.1 2378C2268.33 2379.25 2283.92 2386.13 2299.5 2385.5C2315.08 2384.87 2336.92 2379.82 2355.6 2374.2C2374.28 2368.58 2389.8 2360.52 2411.6 2351.8C2433.4 2343.08 2461.48 2330 2486.4 2321.9C2511.32 2313.8 2536.18 2308.8 2561.1 2303.2C2586.02 2297.6 2610.98 2295.15 2635.9 2288.3C2660.82 2281.45 2679.47 2274.57 2710.6 2262.1C2741.73 2249.63 2785.32 2229.38 2822.7 2213.5C2860.08 2197.62 2888.68 2190.33 2934.9 2166.8C2981.12 2143.27 3053.8 2096.77 3100 2072.3C3146.2 2047.83 3179.72 2035.25 3212.1 2020C3244.48 2004.75 3273.12 1992.95 3294.3 1980.8C3315.48 1968.65 3327.35 1959.25 3339.2 1947.1C3351.05 1934.95 3358.55 1921.28 3365.4 1907.9C3372.25 1894.52 3375.32 1880.5 3380.3 1866.8C3385.28 1853.1 3389.07 1837.85 3395.3 1825.7C3401.53 1813.55 3407.73 1803.57 3417.7 1793.9C3427.67 1784.23 3446.38 1773.5 3455.1 1767.7C3463.82 1761.9 3467.52 1760.53 3470 1759.1"/>
<path class="tb" transform="translate(0,0) scale(1.00000)" stroke-width="22" d="M2245.3 2450.9C2251.22 2456.82 2268.65 2474.88 2280.8 2486.4C2292.95 2497.92 2305.73 2510.67 2318.2 2520C2330.67 2529.33 2340.03 2536.48 2355.6 2542.4C2371.17 2548.32 2389.8 2554.57 2411.6 2555.5C2433.4 2556.43 2464.6 2552.67 2486.4 2548C2508.2 2543.33 2523.72 2537.77 2542.4 2527.5C2561.08 2517.23 2579.8 2502.6 2598.5 2486.4C2617.2 2470.2 2635.92 2447.75 2654.6 2430.3C2673.28 2412.85 2688.8 2397.27 2710.6 2381.7C2732.4 2366.13 2754.25 2353.1 2785.4 2336.9C2816.55 2320.7 2845.07 2307.92 2897.5 2284.5C2949.93 2261.08 3053.8 2217.12 3100 2196.4C3146.2 2175.68 3143.55 2176.02 3174.7 2160.2C3205.85 2144.38 3261.87 2114.37 3286.9 2101.5C3311.93 2088.63 3306.1 2094.08 3324.9 2083C3343.7 2071.92 3374.78 2051.75 3399.7 2035C3424.62 2018.25 3449.48 2000.67 3474.4 1982.5C3499.32 1964.33 3524.28 1944.83 3549.2 1926C3574.12 1907.17 3598.98 1886.83 3623.9 1869.5C3648.82 1852.17 3680.18 1833.75 3698.7 1822C3717.22 1810.25 3728.95 1802.83 3735 1799"/>
<path class="tw" transform="translate(0,0) scale(1.00000)" stroke-width="16.2" d="M2262.1 2378C2268.33 2379.25 2283.92 2386.13 2299.5 2385.5C2315.08 2384.87 2336.92 2379.82 2355.6 2374.2C2374.28 2368.58 2389.8 2360.52 2411.6 2351.8C2433.4 2343.08 2461.48 2330 2486.4 2321.9C2511.32 2313.8 2536.18 2308.8 2561.1 2303.2C2586.02 2297.6 2610.98 2295.15 2635.9 2288.3C2660.82 2281.45 2679.47 2274.57 2710.6 2262.1C2741.73 2249.63 2785.32 2229.38 2822.7 2213.5C2860.08 2197.62 2888.68 2190.33 2934.9 2166.8C2981.12 2143.27 3053.8 2096.77 3100 2072.3C3146.2 2047.83 3179.72 2035.25 3212.1 2020C3244.48 2004.75 3273.12 1992.95 3294.3 1980.8C3315.48 1968.65 3327.35 1959.25 3339.2 1947.1C3351.05 1934.95 3358.55 1921.28 3365.4 1907.9C3372.25 1894.52 3375.32 1880.5 3380.3 1866.8C3385.28 1853.1 3389.07 1837.85 3395.3 1825.7C3401.53 1813.55 3407.73 1803.57 3417.7 1793.9C3427.67 1784.23 3446.38 1773.5 3455.1 1767.7C3463.82 1761.9 3467.52 1760.53 3470 1759.1"/>
<path class="tw" transform="translate(0,0) scale(1.00000)" stroke-width="18.2" d="M2245.3 2450.9C2251.22 2456.82 2268.65 2474.88 2280.8 2486.4C2292.95 2497.92 2305.73 2510.67 2318.2 2520C2330.67 2529.33 2340.03 2536.48 2355.6 2542.4C2371.17 2548.32 2389.8 2554.57 2411.6 2555.5C2433.4 2556.43 2464.6 2552.67 2486.4 2548C2508.2 2543.33 2523.72 2537.77 2542.4 2527.5C2561.08 2517.23 2579.8 2502.6 2598.5 2486.4C2617.2 2470.2 2635.92 2447.75 2654.6 2430.3C2673.28 2412.85 2688.8 2397.27 2710.6 2381.7C2732.4 2366.13 2754.25 2353.1 2785.4 2336.9C2816.55 2320.7 2845.07 2307.92 2897.5 2284.5C2949.93 2261.08 3053.8 2217.12 3100 2196.4C3146.2 2175.68 3143.55 2176.02 3174.7 2160.2C3205.85 2144.38 3261.87 2114.37 3286.9 2101.5C3311.93 2088.63 3306.1 2094.08 3324.9 2083C3343.7 2071.92 3374.78 2051.75 3399.7 2035C3424.62 2018.25 3449.48 2000.67 3474.4 1982.5C3499.32 1964.33 3524.28 1944.83 3549.2 1926C3574.12 1907.17 3598.98 1886.83 3623.9 1869.5C3648.82 1852.17 3680.18 1833.75 3698.7 1822C3717.22 1810.25 3728.95 1802.83 3735 1799"/>
</g>
<g class="d" transform="translate(0,0) scale(1.00000)" font-size="37.50">
<path class="t" d="M2300.6 2390.9C2310.02 2389 2338.25 2385.17 2357.1 2379.5C2375.95 2373.83 2391.87 2365.62 2413.7 2356.9C2435.53 2348.18 2463.33 2335.25 2488.1 2327.2C2512.87 2319.15 2537.43 2314.2 2562.3 2308.6C2587.17 2303 2612.23 2300.5 2637.3 2293.6C2662.37 2286.7 2681.43 2279.7 2712.7 2267.2C2743.97 2254.7 2787.45 2234.52 2824.9 2218.6C2862.35 2202.68 2891.12 2195.27 2937.4 2171.7C2983.68 2148.13 3056.42 2101.65 3102.6 2077.2C3148.78 2052.75 3182.08 2040.28 3214.5 2025C3246.92 2009.72 3275.67 1997.83 3297.1 1985.5C3318.53 1973.17 3330.9 1963.52 3343.1 1951C3355.3 1938.48 3363.23 1924.12 3370.3 1910.4C3377.37 1896.68 3380.52 1882.4 3385.5 1868.7C3390.48 1855 3394.2 1840.02 3400.2 1828.2C3406.2 1816.38 3411.85 1807.12 3421.5 1797.8C3431.15 1788.48 3449.55 1777.95 3458.1 1772.3C3466.65 1766.65 3470.35 1765.3 3472.8 1763.9"/>
<path class="t" d="M2276.5 2491.2C2282.8 2496.87 2301.5 2515.65 2314.3 2525.2C2327.1 2534.75 2337.13 2542.37 2353.3 2548.5C2369.47 2554.63 2388.9 2561.02 2411.3 2562C2433.7 2562.98 2465.32 2559.2 2487.7 2554.4C2510.08 2549.6 2526.42 2543.72 2545.6 2533.2C2564.78 2522.68 2583.9 2507.65 2602.8 2491.3C2621.7 2474.95 2640.4 2452.48 2659 2435.1C2677.6 2417.72 2692.83 2402.42 2714.4 2387C2735.97 2371.58 2757.45 2358.68 2788.4 2342.6C2819.35 2326.52 2847.72 2313.87 2900.1 2290.5C2952.48 2267.13 3056.43 2223.15 3102.7 2202.4C3148.97 2181.65 3146.52 2181.85 3177.7 2166C3208.88 2150.15 3264.72 2120.2 3289.8 2107.3C3314.88 2094.4 3309.28 2099.75 3328.2 2088.6C3347.12 2077.45 3378.3 2057.2 3403.3 2040.4C3428.3 2023.6 3453.23 2006 3478.2 1987.8C3503.17 1969.6 3528.2 1950.03 3553.1 1931.2C3578 1912.37 3602.75 1892.08 3627.6 1874.8C3652.45 1857.52 3683.72 1839.22 3702.2 1827.5C3720.68 1815.78 3732.45 1808.33 3738.5 1804.5"/>
</g>
<g class="d" transform="translate(3100,1650) scale(0.37375)" font-size="100.33">
<text x="232" y="520">1040</text>
<path class="ld" d="M470 525L700 625"/>
<text x="1222" y="218">1060</text>
<path class="ld" d="M1222 240L1120 340"/>
<text x="1419" y="345">1050</text>
<path class="ld" d="M1408 362L1280 478"/>
<text x="2032" y="168">1080</text>
<path class="ld" d="M2042 200L1945 300"/>
<text x="1997" y="618">1090</text>
<path class="ld" d="M1978 522L1860 368"/>
<text x="1626" y="818">1070</text>
<path class="ld" d="M1610 775L1300 703"/>
<path class="w" d="M955 300 L985 280 L1035 258 Q1052 262 1050 280 L1020 320 L990 332 L975 335 Z"/>
<ellipse cx="1018" cy="292" rx="16" ry="10" transform="rotate(-35 1018 292)"/>
<path d="M985 282 L1000 325"/>
<ellipse class="w" cx="1092" cy="368" rx="36" ry="26" transform="rotate(-35 1092 368)"/>
<ellipse class="k" cx="1092" cy="368" rx="22" ry="15" transform="rotate(-35 1092 368)"/>
<ellipse class="w" cx="1092" cy="368" rx="10" ry="6" transform="rotate(-35 1092 368)"/>
<path class="w" d="M1165 458 Q1175 435 1200 438 L1260 500 L1225 530 Z"/>
<path class="w" d="M1215 505 L1245 480 L1280 490 L1285 525 L1255 552 L1225 550 L1208 530 Z"/>
<path d="M1245 480 L1255 515 L1285 525 M1255 515 L1225 550"/>
<path class="w" d="M1585 440 L1690 375 L1720 420 L1620 470 Z"/>
<path class="h" d="M1600 432 L1690 380"/>
<path class="w" d="M1680 350 L1740 325 L1790 340 L1805 380 L1780 420 L1730 430 L1700 400 Z"/>
<ellipse class="w" cx="1765" cy="372" rx="30" ry="36" transform="rotate(-20 1765 372)"/>
<path d="M1690 355 L1720 400 L1730 428"/>
<path class="w" d="M1765 325 L1785 320 L1795 340 L1778 345 Z"/>
<ellipse class="w" cx="1852" cy="340" rx="25" ry="30" transform="rotate(-15 1852 340)"/>
<ellipse cx="1852" cy="340" rx="12" ry="15" transform="rotate(-15 1852 340)"/>
<path class="k" d="M1900 305 L1920 290 L1942 300 L1945 325 L1925 340 L1902 332 Z"/>
<ellipse class="w" cx="1922" cy="315" rx="10" ry="12"/>
</g>
<g class="d" transform="translate(2200,1700) scale(0.37375)" font-size="100.33">
<text x="1966" y="538">922</text>
<path class="ld" d="M2170 545L2310 595"/>
<text x="1444" y="818">921</text>
<path class="ld" d="M1630 825L1752 883"/>
<text x="596" y="1218">920</text>
<path class="ld" d="M778 1225L885 1275"/>
<path class="ld" d="M65 395L0 265"/>
<path class="tb" stroke-width="6" d="M940 1185C925.83 1216.67 869.27 1337.95 855 1375C840.73 1412.05 852.51 1397.76 854.39 1407.27C856.27 1416.79 860.35 1425.3 866.29 1432.09C872.22 1438.88 881.83 1445.89 890 1448C898.17 1450.11 907.13 1447.44 915.31 1444.75C923.5 1442.05 931.66 1437.62 939.11 1431.83C946.56 1426.04 948.19 1426.14 960 1410C971.81 1393.86 999.27 1354.29 1010 1335C1020.73 1315.71 1021.4 1307.3 1024.35 1294.28C1027.31 1281.26 1028.48 1268.42 1027.76 1256.88C1027.03 1245.33 1023.95 1233.71 1020 1225C1016.05 1216.29 1010.41 1210.57 1004.08 1204.62C997.74 1198.68 990.16 1193.43 981.98 1189.32C973.8 1185.22 959.5 1181.55 955 1180"/>
<path class="tw" stroke-width="2.2" d="M940 1185C925.83 1216.67 869.27 1337.95 855 1375C840.73 1412.05 852.51 1397.76 854.39 1407.27C856.27 1416.79 860.35 1425.3 866.29 1432.09C872.22 1438.88 881.83 1445.89 890 1448C898.17 1450.11 907.13 1447.44 915.31 1444.75C923.5 1442.05 931.66 1437.62 939.11 1431.83C946.56 1426.04 948.19 1426.14 960 1410C971.81 1393.86 999.27 1354.29 1010 1335C1020.73 1315.71 1021.4 1307.3 1024.35 1294.28C1027.31 1281.26 1028.48 1268.42 1027.76 1256.88C1027.03 1245.33 1023.95 1233.71 1020 1225C1016.05 1216.29 1010.41 1210.57 1004.08 1204.62C997.74 1198.68 990.16 1193.43 981.98 1189.32C973.8 1185.22 959.5 1181.55 955 1180"/>
<path class="w" d="M925 1150 L955 1138 L972 1170 L942 1185 Z"/>
<path d="M938 1160 L965 1150"/>
<path class="tb" stroke-width="6" d="M1810 783C1795.83 814.67 1739.27 935.95 1725 973C1710.73 1010.05 1722.51 995.76 1724.39 1005.27C1726.27 1014.79 1730.35 1023.3 1736.29 1030.09C1742.22 1036.88 1751.83 1043.89 1760 1046C1768.17 1048.11 1777.13 1045.44 1785.31 1042.75C1793.5 1040.05 1801.66 1035.62 1809.11 1029.83C1816.56 1024.04 1818.19 1024.14 1830 1008C1841.81 991.86 1869.27 952.29 1880 933C1890.73 913.71 1891.4 905.3 1894.35 892.28C1897.31 879.26 1898.48 866.42 1897.76 854.88C1897.03 843.33 1893.95 831.71 1890 823C1886.05 814.29 1880.41 808.57 1874.08 802.62C1867.74 796.68 1860.16 791.43 1851.98 787.32C1843.8 783.22 1829.5 779.55 1825 778"/>
<path class="tw" stroke-width="2.2" d="M1810 783C1795.83 814.67 1739.27 935.95 1725 973C1710.73 1010.05 1722.51 995.76 1724.39 1005.27C1726.27 1014.79 1730.35 1023.3 1736.29 1030.09C1742.22 1036.88 1751.83 1043.89 1760 1046C1768.17 1048.11 1777.13 1045.44 1785.31 1042.75C1793.5 1040.05 1801.66 1035.62 1809.11 1029.83C1816.56 1024.04 1818.19 1024.14 1830 1008C1841.81 991.86 1869.27 952.29 1880 933C1890.73 913.71 1891.4 905.3 1894.35 892.28C1897.31 879.26 1898.48 866.42 1897.76 854.88C1897.03 843.33 1893.95 831.71 1890 823C1886.05 814.29 1880.41 808.57 1874.08 802.62C1867.74 796.68 1860.16 791.43 1851.98 787.32C1843.8 783.22 1829.5 779.55 1825 778"/>
<path class="w" d="M1795 748 L1825 736 L1842 768 L1812 783 Z"/>
<path d="M1808 758 L1835 748"/>
<path class="tb" stroke-width="6" d="M2378 498C2363.83 529.67 2307.27 650.95 2293 688C2278.73 725.05 2290.51 710.76 2292.39 720.27C2294.27 729.79 2298.35 738.3 2304.29 745.09C2310.22 751.88 2319.83 758.89 2328 761C2336.17 763.11 2345.13 760.44 2353.31 757.75C2361.5 755.05 2369.66 750.62 2377.11 744.83C2384.56 739.04 2386.19 739.14 2398 723C2409.81 706.86 2437.27 667.29 2448 648C2458.73 628.71 2459.4 620.3 2462.35 607.28C2465.31 594.26 2466.48 581.42 2465.76 569.88C2465.03 558.33 2461.95 546.71 2458 538C2454.05 529.29 2448.41 523.57 2442.08 517.62C2435.74 511.68 2428.16 506.43 2419.98 502.32C2411.8 498.22 2397.5 494.55 2393 493"/>
<path class="tw" stroke-width="2.2" d="M2378 498C2363.83 529.67 2307.27 650.95 2293 688C2278.73 725.05 2290.51 710.76 2292.39 720.27C2294.27 729.79 2298.35 738.3 2304.29 745.09C2310.22 751.88 2319.83 758.89 2328 761C2336.17 763.11 2345.13 760.44 2353.31 757.75C2361.5 755.05 2369.66 750.62 2377.11 744.83C2384.56 739.04 2386.19 739.14 2398 723C2409.81 706.86 2437.27 667.29 2448 648C2458.73 628.71 2459.4 620.3 2462.35 607.28C2465.31 594.26 2466.48 581.42 2465.76 569.88C2465.03 558.33 2461.95 546.71 2458 538C2454.05 529.29 2448.41 523.57 2442.08 517.62C2435.74 511.68 2428.16 506.43 2419.98 502.32C2411.8 498.22 2397.5 494.55 2393 493"/>
<path class="w" d="M2363 463 L2393 451 L2410 483 L2380 498 Z"/>
<path d="M2376 473 L2403 463"/>
</g>
<g class="d" transform="translate(2150,2150) scale(0.37375)" font-size="100.33">
<path class="w" d="M168 565 Q175 548 195 550 L300 590 L300 632 L240 612 L172 590 Z"/>
<ellipse cx="195" cy="570" rx="13" ry="9" transform="rotate(15 195 570)"/>
<path d="M240 580 L235 612 M262 590 L258 620"/>
<path class="w" d="M170 735 L185 715 L205 720 L210 745 L190 760 Z"/>
<ellipse class="w" cx="225" cy="795" rx="35" ry="42" transform="rotate(-25 225 795)"/>
<ellipse cx="238" cy="792" rx="12" ry="16"/>
<path class="w" d="M235 750 Q280 725 310 760 L312 790 L260 830 L240 800 Z"/>
<path d="M260 830 L312 790"/>
<path class="t" d="M310 870 L320 880 M365 868 L375 878"/>
</g>
<g class="d" transform="translate(1000,1720) scale(0.33224)" font-size="112.87">
<text x="617" y="195">1000a</text>
<path class="ld" d="M765 218L745 378"/>
<text x="1380" y="1248">380</text>
<path class="ld" d="M1355 1260L510 980"/>
<path class="ld" d="M1355 1260L1298 1400"/>
<text x="-33" y="1182">400</text>
<path class="ld" d="M178 1185L425 1288"/>
<path class="tb" stroke-width="11" d="M675 500C670.49 494.5 653.88 478.17 647.96 467C642.03 455.83 639.12 444.17 639.46 433C639.8 421.83 642.02 407.71 650 400C657.98 392.29 673.2 388.94 687.36 386.73C701.52 384.52 717.85 384.52 734.96 386.73C752.06 388.95 772.57 392.48 790 400C807.43 407.52 823.91 419.17 839.53 431.84C855.16 444.52 870.32 459.69 883.73 476.05C897.14 492.4 908.96 511.01 920 530C931.04 548.99 945 580 950 590"/>
<path class="tw" stroke-width="7.2" d="M675 500C670.49 494.5 653.88 478.17 647.96 467C642.03 455.83 639.12 444.17 639.46 433C639.8 421.83 642.02 407.71 650 400C657.98 392.29 673.2 388.94 687.36 386.73C701.52 384.52 717.85 384.52 734.96 386.73C752.06 388.95 772.57 392.48 790 400C807.43 407.52 823.91 419.17 839.53 431.84C855.16 444.52 870.32 459.69 883.73 476.05C897.14 492.4 908.96 511.01 920 530C931.04 548.99 945 580 950 590"/>
<path class="t" d="M680 420 Q760 400 840 460 Q890 510 930 590"/>
<path class="w" d="M660 480 Q690 450 720 470 L770 510 L740 560 L665 510 Z"/>
<path class="w" d="M725 560 Q720 510 770 500 Q825 505 830 560 L830 615 Q800 645 760 640 Q725 630 725 600 Z"/>
<path d="M780 505 L785 640 M728 585 Q780 600 830 580"/>
<path class="tb" stroke-width="5.5" d="M1172 610C1173.33 625 1179.76 682.01 1180 700C1180.24 717.99 1176.79 712.98 1173.43 717.96C1170.07 722.94 1165.41 727.02 1159.83 729.86C1154.26 732.7 1157.98 737.18 1140 735C1122.02 732.82 1080.23 721.25 1051.96 716.8C1023.68 712.35 995.68 709.43 970.36 708.3C945.03 707.17 921 707.87 900 710C879 712.13 859.57 720.37 844.35 721.09C829.12 721.8 816.87 719.47 808.65 714.29C800.42 709.11 795.91 699.19 795 690C794.09 680.81 798.72 668.85 803.2 659.18C807.68 649.51 814.1 640.17 821.9 631.98C829.7 623.78 836.98 612 850 610C863.02 608 891.67 618.33 900 620"/>
<path class="tw" stroke-width="1.9" d="M1172 610C1173.33 625 1179.76 682.01 1180 700C1180.24 717.99 1176.79 712.98 1173.43 717.96C1170.07 722.94 1165.41 727.02 1159.83 729.86C1154.26 732.7 1157.98 737.18 1140 735C1122.02 732.82 1080.23 721.25 1051.96 716.8C1023.68 712.35 995.68 709.43 970.36 708.3C945.03 707.17 921 707.87 900 710C879 712.13 859.57 720.37 844.35 721.09C829.12 721.8 816.87 719.47 808.65 714.29C800.42 709.11 795.91 699.19 795 690C794.09 680.81 798.72 668.85 803.2 659.18C807.68 649.51 814.1 640.17 821.9 631.98C829.7 623.78 836.98 612 850 610C863.02 608 891.67 618.33 900 620"/>
<path class="w" d="M895 600 L985 555 L1105 790 L1100 830 L1030 850 Z"/>
<path class="h" d="M900 598 L988 558"/>
<path d="M930 610 L1050 840 M960 580 L1080 810 M1000 600 L1105 800 M1030 850 L1060 820 L1105 810"/>
<ellipse class="w" cx="1140" cy="880" rx="38" ry="58" transform="rotate(-20 1140 880)"/>
<ellipse class="w" cx="1150" cy="930" rx="28" ry="30"/>
<ellipse cx="1150" cy="930" rx="18" ry="20"/>
<path class="w" d="M1040 850 L1100 840 L1130 880 L1120 930 L1080 940 L1050 900 Z"/>
<ellipse class="k" cx="1088" cy="885" rx="24" ry="30" transform="rotate(-20 1088 885)"/>
<ellipse class="w" cx="1090" cy="885" rx="10" ry="13" transform="rotate(-20 1090 885)"/>
<path class="w" d="M455 985 L495 985 L495 1135 Q475 1145 455 1135 Z"/>
<path d="M468 990 L468 1138 M482 990 L482 1138"/>
<path class="w" d="M438 950 L455 935 L495 935 L512 950 L510 975 L495 990 L455 990 L440 975 Z"/>
<path d="M440 960 L475 968 L510 960 M475 968 L475 990"/>
<path class="w" d="M1258 1450 L1300 1450 L1300 1600 Q1279 1612 1258 1600 Z"/>
<path d="M1272 1455 L1272 1603 M1286 1455 L1286 1603"/>
<path class="w" d="M1240 1415 L1258 1400 L1298 1400 L1315 1415 L1313 1440 L1298 1455 L1258 1455 L1242 1440 Z"/>
<path d="M1242 1425 L1278 1433 L1313 1425 M1278 1433 L1278 1455"/>
<ellipse class="w" cx="474" cy="1312" rx="60" ry="36"/>
<ellipse class="w" cx="474" cy="1303" rx="60" ry="36"/>
<ellipse cx="474" cy="1303" rx="22" ry="12"/>
</g>
<g class="d" transform="translate(1000,2150) scale(0.33224)" font-size="112.87">
<text x="533" y="412">941</text>
<path class="ld" d="M640 442L708 555"/>
<text x="1443" y="315">400</text>
<path class="ld" d="M1447 325L1325 455"/>
<text x="1990" y="1222">270</text>
<path class="ld" d="M1985 1180L1800 1180"/>
<path class="ld" d="M1855 860L1725 860"/>
<path class="w" d="M672 575 L770 520 L785 522 L790 545 L685 598 Z"/>
<path d="M675 580 L778 535 M770 520 L778 535 L790 545"/>
<ellipse class="w" cx="1277" cy="480" rx="60" ry="36"/>
<ellipse class="w" cx="1277" cy="472" rx="60" ry="36"/>
<ellipse cx="1277" cy="472" rx="22" ry="12"/>
<path class="w" d="M1885 505 L1905 490 L1930 498 L1935 525 L1915 542 L1890 533 Z"/>
<ellipse cx="1909" cy="516" rx="10" ry="12"/>
<path class="w" d="M1843 565 L1863 550 L1888 558 L1893 585 L1873 602 L1848 593 Z"/>
<ellipse cx="1867" cy="576" rx="10" ry="12"/>
</g>
<g class="d" transform="translate(1000,2340) scale(0.33224)" font-size="112.87">
</g>
<g class="d" transform="translate(1470,2330) scale(0.08322)" font-size="450.59">
<path class="h w" d="M900 320 L1160 175 Q1250 165 1310 260 Q1360 350 1340 470 L1240 590 L1180 720 L1090 850 L1000 700 Z"/>
<ellipse class="k" cx="1365" cy="250" rx="62" ry="62"/>
<path class="h" d="M1290 250 Q1340 330 1330 440 M1060 560 L1140 520 L1170 600 L1230 560"/>
<path d="M1150 540 Q1180 620 1160 720 M1060 560 Q1100 700 1090 850"/>
<ellipse class="k" cx="800" cy="630" rx="285" ry="350" transform="rotate(-22 800 630)"/>
<ellipse class="w" cx="770" cy="650" rx="235" ry="310" transform="rotate(-22 770 650)"/>
<path class="h w" d="M240 820 Q230 600 330 480 Q460 400 620 430 Q800 480 860 640 Q900 800 820 900 Q700 1000 560 990 Q380 960 300 900 Z"/>
<path class="h" d="M330 600 L760 900 M470 530 L600 640 M400 760 Q450 650 560 640"/>
<path class="k" d="M540 560 L620 520 L700 640 L660 720 L600 700 Z"/>
<ellipse class="w" cx="665" cy="610" rx="40" ry="48" transform="rotate(-20 665 610)"/>
<path class="k" d="M600 760 L700 720 L780 800 L760 880 L680 860 Z"/>
<path class="w" d="M700 790 L750 770 L770 840 L730 850 Z"/>
<path class="w" d="M490 500 L600 500 L560 580 Z"/>
<path class="w" d="M860 760 L920 790 L850 850 Z"/>
<path class="h w" d="M410 760 Q420 690 480 690 L600 830 Q610 900 560 920 Q480 900 430 840 Z"/>
<ellipse cx="510" cy="800" rx="35" ry="90" transform="rotate(-35 510 800)"/>
<path class="w" d="M360 590 L420 565 L455 640 L395 665 Z"/>
<path class="h w" d="M140 850 L230 810 L700 1180 L690 1200 L520 1290 L340 1400 Q230 1380 170 1280 Q130 1150 140 850 Z"/>
<path class="k" d="M190 860 L240 830 L700 1185 L690 1205 L520 1290 L470 1270 L560 1200 Z"/>
<path class="w" d="M230 880 L290 920 L260 960 L200 920 Z"/>
<path class="w" d="M300 960 L340 990 L310 1020 L275 995 Z"/>
<path class="w" d="M430 1120 L500 1080 L600 1170 L520 1220 Z"/>
<path class="w" d="M520 1060 L600 1020 L650 1080 L570 1110 Z"/>
<path class="h" d="M150 900 L160 1180 M210 980 Q250 1100 330 1180"/>
<ellipse class="w" cx="285" cy="1250" rx="70" ry="80" transform="rotate(-20 285 1250)"/>
<ellipse cx="285" cy="1250" rx="35" ry="42" transform="rotate(-20 285 1250)"/>
<path class="k" d="M330 1230 L380 1210 L385 1290 L345 1300 Z"/>
<path class="h w" d="M770 1010 L950 860 L1260 1190 L1230 1280 L1050 1410 L1010 1400 L750 1080 Z"/>
<path class="h" d="M760 1060 L1040 1380 M800 1010 L1080 1320 L1250 1200"/>
<path d="M1080 1320 L1050 1405 M1180 1250 L1220 1230"/>
</g>
<g class="d" transform="translate(1000,2340) scale(0.33224)" font-size="112.87">
<path class="w" d="M1645 560 L1700 515 L1730 520 L1805 575 L1810 610 L1760 620 L1700 615 L1640 590 Z"/>
<path class="k" d="M1745 540 L1805 578 L1808 608 L1770 612 L1740 580 Z"/>
<path class="w" d="M1765 565 L1790 580 L1788 598 L1765 590 Z"/>
<path d="M1645 562 L1710 570 L1740 545 M1710 570 L1705 615 M1660 550 L1665 595"/>
<path class="h" d="M1650 565 L1700 520"/>
<text x="1833" y="1552">940</text>
<path class="ld" d="M1720 1425L1820 1468"/>
<path class="w" d="M1590 1440 Q1620 1380 1700 1340 L1725 1335 L1750 1365 L1720 1410 L1700 1425 L1690 1440 L1620 1465 Q1590 1465 1590 1440 Z"/>
<path d="M1600 1445 Q1640 1395 1720 1350 M1700 1425 L1680 1400 L1720 1375 M1620 1465 L1690 1420"/>
<path class="ld" d="M1060 1350L1065 1500"/>
<text x="977" y="1635">410</text>
<path class="w" d="M470 718 L350 760 L310 810 L305 935 L410 990 L410 1080 L640 1195 L800 1205 L950 1295 L1020 1345 L1180 1335 L1280 1300 L1340 1235 L1345 1120 L1280 1070 L1280 700 Z"/>
<path d="M305 895 L410 950 L410 1040 L640 1155 L800 1165 L950 1255 L1020 1305 L1180 1295 L1280 1260 L1340 1200 L1345 1120"/>
<path class="t" d="M320 805 L318 925 M355 765 L352 790 M640 1155 L640 1195 M700 1160 L700 1198 M800 1165 L800 1205 M950 1255 L950 1295 M1020 1305 L1020 1345 M1180 1295 L1180 1335 M1280 1260 L1280 1300 M1320 1222 L1322 1258"/>
<path d="M390 770 L440 790 M400 755 L460 780"/>
<path d="M795 800 L580 970 M1060 985 L740 1120 M810 735 L1060 900"/>
<path class="w" d="M645 250 L650 730 L470 830 L445 825 L490 720 L485 450 L545 320 L515 300 Z"/>
<path d="M660 255 L662 735 M500 720 L498 455 L552 325 M470 830 L462 800 L495 725"/>
<path class="w" d="M650 250 L860 370 L865 262 L900 245 L990 335 L1035 320 L1045 430 L1150 480 L1170 320 L1200 295 L1340 380 L1355 440 L1330 600 L1280 640 L1175 685 L1130 860 L1120 1000 L1070 980 L1060 900 L810 735 L795 800 L650 730 Z"/>
<path d="M870 275 L985 345 L995 440 L1135 500 M1000 330 L1005 425 M810 735 L808 790 M1175 685 L1165 640"/>
<path class="w" d="M515 300 L720 170 L750 120 L800 100 L860 130 L865 262 L860 370 L650 250 Z"/>
<path d="M530 308 L725 185 M720 170 L830 100 M725 230 L840 150 L860 165 M725 230 L800 270"/>
<path class="w" d="M720 85 L795 68 L800 82 L745 105 L725 100 Z"/>
<path d="M745 105 L750 130"/>
<path class="w" d="M975 75 L1025 60 L1050 100 L1000 115 Z"/>
<path d="M985 90 L985 150"/>
<path class="w" d="M890 245 L920 210 L1095 120 L1105 135 L1095 180 L990 300 Z"/>
<path class="h" d="M905 235 L1090 130 M915 260 L1095 155"/>
<path d="M960 195 L965 230 M935 275 L1080 185 M950 300 L1060 240"/>
<path class="w" d="M1220 240 L1285 205 L1290 290 L1235 315 Z"/>
<path d="M1245 235 L1250 300"/>
<path class="w" d="M1290 275 L1340 255 L1355 300 L1345 380 L1295 350 Z"/>
<path class="h" d="M680 385 Q740 540 840 645 M730 380 Q760 450 800 520"/>
<path d="M695 380 Q750 520 850 620 L855 570 L790 510 M840 645 L855 570"/>
<path class="w" d="M775 455 L805 445 L818 470 L790 485 Z"/>
<path d="M680 660 Q720 700 765 770 M675 665 Q690 740 750 790 L765 770 M700 700 L740 730"/>
<path class="h" d="M985 640C982.5 650 970 680 970 700C970 720 973.33 742.5 985 760C996.67 777.5 1024.17 796.67 1040 805C1055.83 813.33 1073.33 809.17 1080 810"/>
<path d="M985 640C994.17 641.67 1024.17 640 1040 650C1055.83 660 1072.5 680 1080 700C1087.5 720 1085 751.67 1085 770C1085 788.33 1080.83 803.33 1080 810"/>
<path class="h w" d="M1165 330 Q1170 300 1200 298 L1310 360 Q1345 390 1340 440 L1330 600 L1290 620 L1300 440 Q1300 410 1275 395 L1200 355 L1190 520 L1150 540 Z"/>
<path d="M1185 340 L1320 415 L1315 600 M1210 370 L1205 510 M1240 385 L1235 560 M1265 400 L1262 580"/>
<path class="w" d="M1135 600 Q1140 560 1170 565 L1260 610 L1240 650 L1160 640 Z"/>
<path class="w" d="M1175 685 L1280 640 L1280 1095 L1140 1170 L1085 1205 L1120 1000 L1130 860 Z"/>
<path d="M1140 1170 L1135 880 L1180 700 M1085 1205 L1105 1195 L1140 1170"/>
<path class="w" d="M1175 690 L1300 610 L1320 620 L1195 705 Z"/>
<path d="M1285 950 L1345 945 L1290 1040"/>
<path class="t" d="M1165 1205 Q1200 1235 1250 1245 M1180 1195 Q1210 1225 1260 1235"/>
<path class="w" d="M515 960 L545 958 L720 1045 L750 1120 L650 1180 L630 1165 L455 1075 Z"/>
<path class="h" d="M520 965 L715 1060 L650 1170"/>
<path d="M545 985 L700 1065 L650 1150 L480 1070 Z M560 1075 L590 1050 L660 1085 L630 1110 Z"/>
</g>
<g class="d" transform="translate(500,2180) scale(0.33224)" font-size="112.87">
<text x="856" y="218">430</text>
<path class="ld" d="M1042 243L1125 455"/>
<text x="41" y="905">420</text>
<path class="ld" d="M248 918L470 1075"/>
<path class="w" d="M960 550 Q965 525 985 520 L1210 430 L1350 408 L1375 410 L1465 465 L1478 490 L1475 540 L1440 575 L1380 545 L1350 520 L1290 580 L1200 640 L1180 660 L1180 720 L1165 738 L1145 730 L965 625 Z"/>
<path d="M1210 430 L1310 480 L1350 520 M1225 428 L1325 478 L1465 470 M960 550 L1060 600 L1065 650 L1150 700 L1165 738 M1060 600 L1100 575 L1180 545 L1290 470"/>
<path class="h" d="M1005 545 Q1000 600 1030 630 M1200 640 Q1260 610 1340 525"/>
<path d="M1020 540 Q1015 590 1040 620 L1065 640 M1075 528 L1175 525 L1185 545 L1100 592 L1070 610 M1045 545 L1075 528 L1090 545 L1060 560 Z"/>
<path class="w" d="M1385 500 Q1390 485 1410 488 L1455 490 Q1470 495 1468 510 L1462 550 L1440 565 L1395 540 Z"/>
<path d="M1405 505 L1450 508 L1445 545 L1405 525 Z"/>
<path class="w" d="M478 670 Q480 640 515 635 Q565 645 570 690 L565 1540 L472 1540 Z"/>
<path class="h" d="M482 680 L476 1530 M548 700 L540 1530"/>
<path d="M560 690 L555 1530"/>
<path class="k" d="M485 690 L545 700 L545 712 L485 702 Z"/>
<path class="k" d="M485 718 L545 728 L545 740 L485 730 Z"/>
<path class="k" d="M485 746 L545 756 L545 768 L485 758 Z"/>
<path class="k" d="M485 774 L545 784 L545 796 L485 786 Z"/>
<path class="w" d="M500 850 Q512 835 525 850 L522 935 Q510 945 498 930 Z"/>
<path d="M505 905 L520 860"/>
<path class="h" d="M492 1000C492.5 1041.67 493.67 1170 495 1250C496.33 1330 499.17 1441.67 500 1480"/>
<path d="M492 1000 Q515 975 540 1000"/>
</g>
<g class="d" transform="translate(500,2566) scale(0.33224)" font-size="112.87">
<text x="1398" y="193" font-size="135.44">340a</text>
<path class="ld" d="M1400 213L1040 193"/>
<path class="ld" d="M1400 213L1490 440"/>
<text x="1847" y="1452" font-size="135.44">340</text>
<path class="ld" d="M1818 1403L1480 1355"/>
<path class="w" d="M472 -30 L565 -30 L562 390 L470 370 Z"/>
<path class="h" d="M478 -30 L474 365 M545 -30 L540 385"/>
<path d="M558 -30 L556 388 M495 -30 Q490 300 520 360"/>
<path class="w" d="M410 398 L470 362 L615 425 L615 440 L545 478 L410 410 Z"/>
<path class="k" d="M450 375 L470 365 L590 420 L545 445 Z"/>
<path class="w" d="M475 372 L540 385 L560 400 L540 425 Z"/>
<path d="M410 398 L545 465 L615 425"/>
<path class="w" d="M995 198 L1025 198 L1025 232 Q1010 242 995 232 Z"/>
<path class="w" d="M978 165 L992 152 L1028 152 L1040 165 L1040 190 L1025 200 L995 200 L980 190 Z"/>
<path d="M980 178 L1010 183 L1040 178"/>
<path class="w" d="M1488 485 L1518 485 L1518 520 Q1503 530 1488 520 Z"/>
<path class="w" d="M1470 452 L1485 440 L1518 440 L1530 452 L1530 478 L1518 488 L1488 488 L1472 478 Z"/>
<path d="M1472 465 L1500 470 L1530 465"/>
<path class="w" d="M725 600 L730 1100 L1310 1440 L1330 1440 L1600 1280 L1600 745 L1480 610 L1100 400 L1010 362 L930 395 L745 508 L718 570 Z"/>
<path d="M718 570 L720 595 L1305 930 L1600 770 M1305 930 L1310 1440 M1330 920 L1330 1440"/>
<path class="h" d="M722 580 L1310 910 L1600 750"/>
<path d="M745 508 L760 525 L1310 830 L1320 905 M1310 830 L1500 730 M760 525 L740 570 M1300 845 L1310 910"/>
<path d="M780 500 L1320 800 M935 395 L1480 690"/>
<path d="M900 440C898.33 442.5 889.17 450 890 455C890.83 460 823.33 423.33 905 470C986.67 516.67 1295.83 690 1380 735C1464.17 780 1402.5 741.67 1410 740C1417.5 738.33 1424.17 730.33 1425 725C1425.83 719.67 1495 756.33 1415 708C1335 659.67 1027.5 481.67 945 435C862.5 388.33 927.5 427.17 920 428C912.5 428.83 903.33 438 900 440"/>
<path class="w" d="M965 392 L1010 365 L1070 395 L1075 420 L1030 445 L975 415 Z"/>
<ellipse cx="1012" cy="393" rx="14" ry="10"/>
<path class="w" d="M1040 445 L1100 405 L1125 410 L1135 450 L1090 480 Z"/>
<path d="M1050 450 L1100 418 L1125 425"/>
<ellipse class="k" cx="1128" cy="490" rx="14" ry="9"/>
<path class="w" d="M1400 655 L1470 610 L1495 625 L1500 690 L1440 700 Z"/>
<path class="w" d="M1450 680 L1500 655 L1555 680 L1555 735 L1510 755 L1500 720 Z"/>
<ellipse cx="1505" cy="678" rx="14" ry="10"/>
<path d="M1500 720 L1555 700 M1520 720 L1522 750"/>
</g>
<g id="watermarks">
<g transform="translate(515,535)"><g transform="rotate(-13.4)"><text class="wm1" x="0" y="-74">vNext</text><text class="wm1" x="0" y="0">Technologies</text></g><g transform="translate(-146.5,-60.5) rotate(9.5)"><text class="wm2" x="0" y="0">vNext Technologies</text></g></g>
<g transform="translate(1542.5,535)"><g transform="rotate(-13.4)"><text class="wm1" x="0" y="-74">vNext</text><text class="wm1" x="0" y="0">Technologies</text></g><g transform="translate(-146.5,-60.5) rotate(9.5)"><text class="wm2" x="0" y="0">vNext Technologies</text></g></g>
<g transform="translate(2570,535)"><g transform="rotate(-13.4)"><text class="wm1" x="0" y="-74">vNext</text><text class="wm1" x="0" y="0">Technologies</text></g><g transform="translate(-146.5,-60.5) rotate(9.5)"><text class="wm2" x="0" y="0">vNext Technologies</text></g></g>
<g transform="translate(3597.5,535)"><g transform="rotate(-13.4)"><text class="wm1" x="0" y="-74">vNext</text><text class="wm1" x="0" y="0">Technologies</text></g><g transform="translate(-146.5,-60.5) rotate(9.5)"><text class="wm2" x="0" y="0">vNext Technologies</text></g></g>
<g transform="translate(4625,535)"><g transform="rotate(-13.4)"><text class="wm1" x="0" y="-74">vNext</text><text class="wm1" x="0" y="0">Technologies</text></g><g transform="translate(-146.5,-60.5) rotate(9.5)"><text class="wm2" x="0" y="0">vNext Technologies</text></g></g>
<g transform="translate(515,1564)"><g transform="rotate(-13.4)"><text class="wm1" x="0" y="-74">vNext</text><text class="wm1" x="0" y="0">Technologies</text></g><g transform="translate(-146.5,-60.5) rotate(9.5)"><text class="wm2" x="0" y="0">vNext Technologies</text></g></g>
<g transform="translate(1542.5,1564)"><g transform="rotate(-13.4)"><text class="wm1" x="0" y="-74">vNext</text><text class="wm1" x="0" y="0">Technologies</text></g><g transform="translate(-146.5,-60.5) rotate(9.5)"><text class="wm2" x="0" y="0">vNext Technologies</text></g></g>
<g transform="translate(2570,1564)"><g transform="rotate(-13.4)"><text class="wm1" x="0" y="-74">vNext</text><text class="wm1" x="0" y="0">Technologies</text></g><g transform="translate(-146.5,-60.5) rotate(9.5)"><text class="wm2" x="0" y="0">vNext Technologies</text></g></g>
<g transform="translate(3597.5,1564)"><g transform="rotate(-13.4)"><text class="wm1" x="0" y="-74">vNext</text><text class="wm1" x="0" y="0">Technologies</text></g><g transform="translate(-146.5,-60.5) rotate(9.5)"><text class="wm2" x="0" y="0">vNext Technologies</text></g></g>
<g transform="translate(4625,1564)"><g transform="rotate(-13.4)"><text class="wm1" x="0" y="-74">vNext</text><text class="wm1" x="0" y="0">Technologies</text></g><g transform="translate(-146.5,-60.5) rotate(9.5)"><text class="wm2" x="0" y="0">vNext Technologies</text></g></g>
<g transform="translate(515,2593)"><g transform="rotate(-13.4)"><text class="wm1" x="0" y="-74">vNext</text><text class="wm1" x="0" y="0">Technologies</text></g><g transform="translate(-146.5,-60.5) rotate(9.5)"><text class="wm2" x="0" y="0">vNext Technologies</text></g></g>
<g transform="translate(1542.5,2593)"><g transform="rotate(-13.4)"><text class="wm1" x="0" y="-74">vNext</text><text class="wm1" x="0" y="0">Technologies</text></g><g transform="translate(-146.5,-60.5) rotate(9.5)"><text class="wm2" x="0" y="0">vNext Technologies</text></g></g>
<g transform="translate(2570,2593)"><g transform="rotate(-13.4)"><text class="wm1" x="0" y="-74">vNext</text><text class="wm1" x="0" y="0">Technologies</text></g><g transform="translate(-146.5,-60.5) rotate(9.5)"><text class="wm2" x="0" y="0">vNext Technologies</text></g></g>
<g transform="translate(3597.5,2593)"><g transform="rotate(-13.4)"><text class="wm1" x="0" y="-74">vNext</text><text class="wm1" x="0" y="0">Technologies</text></g><g transform="translate(-146.5,-60.5) rotate(9.5)"><text class="wm2" x="0" y="0">vNext Technologies</text></g></g>
<g transform="translate(4625,2593)"><g transform="rotate(-13.4)"><text class="wm1" x="0" y="-74">vNext</text><text class="wm1" x="0" y="0">Technologies</text></g><g transform="translate(-146.5,-60.5) rotate(9.5)"><text class="wm2" x="0" y="0">vNext Technologies</text></g></g>
</g>
</svg>
</body>
</html>
